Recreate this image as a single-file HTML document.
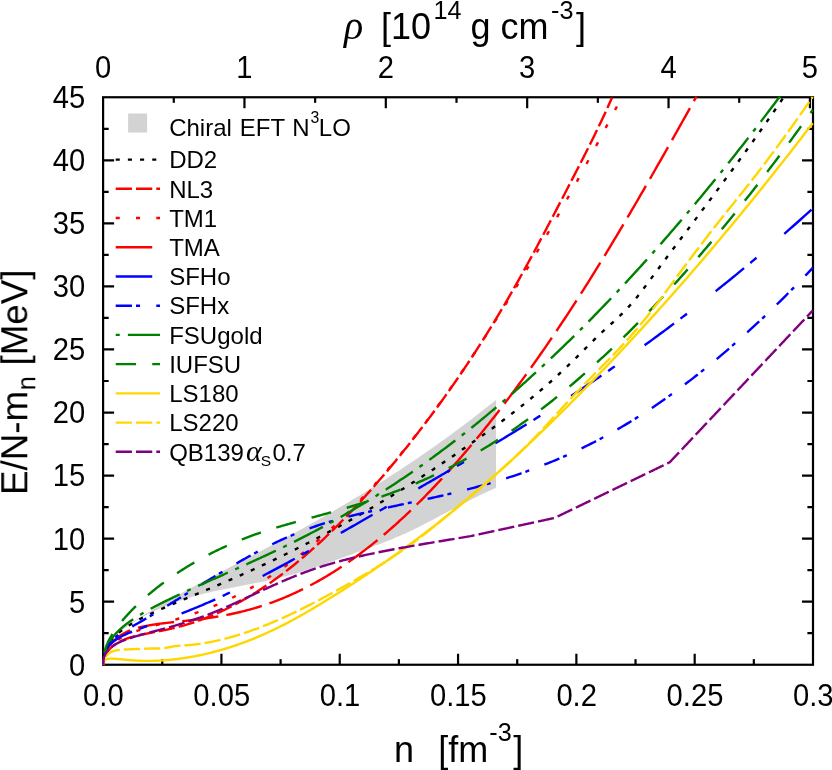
<!DOCTYPE html>
<html><head><meta charset="utf-8"><title>EOS</title>
<style>html,body{margin:0;padding:0;background:#fff;width:832px;height:770px;overflow:hidden}</style>
</head><body>
<svg width="832" height="770" viewBox="0 0 832 770" style="display:block;position:absolute;left:0;top:0">
<defs><clipPath id="cp"><rect x="102.10" y="96.25" width="711.90" height="569.50"/></clipPath></defs>
<rect x="0" y="0" width="832" height="770" fill="#ffffff"/>
<polygon fill="#d3d3d3" points="117.00,632.00 118.90,630.74 120.81,629.49 122.71,628.24 124.62,627.00 126.52,625.77 128.43,624.55 130.33,623.33 132.24,622.12 134.14,620.92 136.05,619.73 137.95,618.54 139.85,617.36 141.76,616.19 143.66,615.03 145.57,613.87 147.47,612.72 149.38,611.57 151.28,610.43 153.19,609.30 155.09,608.17 156.99,607.05 158.90,605.94 160.80,604.83 162.71,603.72 164.61,602.62 166.52,601.53 168.42,600.44 170.33,599.36 172.23,598.28 174.14,597.20 176.04,596.13 177.94,595.07 179.85,594.01 181.75,592.95 183.66,591.90 185.56,590.85 187.47,589.80 189.37,588.76 191.28,587.72 193.18,586.69 195.09,585.65 196.99,584.63 198.89,583.60 200.80,582.58 202.70,581.56 204.61,580.54 206.51,579.53 208.42,578.51 210.32,577.50 212.23,576.49 214.13,575.49 216.04,574.48 217.94,573.48 219.84,572.48 221.75,571.48 223.65,570.48 225.56,569.48 227.46,568.48 229.37,567.49 231.27,566.49 233.18,565.50 235.08,564.50 236.98,563.51 238.89,562.51 240.79,561.52 242.70,560.53 244.60,559.53 246.51,558.54 248.41,557.54 250.32,556.55 252.22,555.55 254.13,554.55 256.03,553.56 257.93,552.56 259.84,551.56 261.74,550.55 263.65,549.55 265.55,548.55 267.46,547.54 269.36,546.53 271.27,545.52 273.17,544.51 275.08,543.49 276.98,542.47 278.88,541.45 280.79,540.43 282.69,539.40 284.60,538.38 286.50,537.34 288.41,536.31 290.31,535.28 292.22,534.24 294.12,533.20 296.03,532.15 297.93,531.10 299.83,530.05 301.74,529.00 303.64,527.95 305.55,526.89 307.45,525.82 309.36,524.76 311.26,523.69 313.17,522.62 315.07,521.55 316.97,520.47 318.88,519.39 320.78,518.30 322.69,517.22 324.59,516.13 326.50,515.03 328.40,513.94 330.31,512.84 332.21,511.73 334.12,510.62 336.02,509.51 337.92,508.40 339.83,507.28 341.73,506.16 343.64,505.03 345.54,503.90 347.45,502.77 349.35,501.63 351.26,500.49 353.16,499.35 355.07,498.20 356.97,497.05 358.87,495.89 360.78,494.73 362.68,493.57 364.59,492.40 366.49,491.23 368.40,490.05 370.30,488.87 372.21,487.68 374.11,486.49 376.02,485.30 377.92,484.10 379.82,482.90 381.73,481.69 383.63,480.48 385.54,479.27 387.44,478.05 389.35,476.82 391.25,475.60 393.16,474.36 395.06,473.12 396.96,471.88 398.87,470.63 400.77,469.38 402.68,468.12 404.58,466.86 406.49,465.60 408.39,464.33 410.30,463.05 412.20,461.77 414.11,460.48 416.01,459.19 417.91,457.89 419.82,456.59 421.72,455.29 423.63,453.97 425.53,452.66 427.44,451.34 429.34,450.01 431.25,448.68 433.15,447.34 435.06,446.00 436.96,444.65 438.86,443.29 440.77,441.93 442.67,440.57 444.58,439.20 446.48,437.82 448.39,436.44 450.29,435.05 452.20,433.66 454.10,432.26 456.01,430.86 457.91,429.45 459.81,428.03 461.72,426.61 463.62,425.18 465.53,423.75 467.43,422.31 469.34,420.86 471.24,419.41 473.15,417.96 475.05,416.49 476.95,415.02 478.86,413.55 480.76,412.06 482.67,410.58 484.57,409.08 486.48,407.58 488.38,406.07 490.29,404.56 492.19,403.04 494.10,401.51 496.00,399.98 496.00,487.95 494.10,488.76 492.19,489.58 490.29,490.41 488.38,491.27 486.48,492.13 484.57,493.01 482.67,493.91 480.76,494.81 478.86,495.73 476.95,496.66 475.05,497.60 473.15,498.55 471.24,499.51 469.34,500.48 467.43,501.46 465.53,502.44 463.62,503.43 461.72,504.43 459.81,505.43 457.91,506.43 456.01,507.44 454.10,508.45 452.20,509.47 450.29,510.49 448.39,511.51 446.48,512.53 444.58,513.54 442.67,514.56 440.77,515.58 438.86,516.60 436.96,517.61 435.06,518.62 433.15,519.62 431.25,520.62 429.34,521.61 427.44,522.60 425.53,523.58 423.63,524.56 421.72,525.52 419.82,526.48 417.91,527.43 416.01,528.37 414.11,529.29 412.20,530.21 410.30,531.11 408.39,532.00 406.49,532.88 404.58,533.74 402.68,534.59 400.77,535.42 398.87,536.25 396.96,537.06 395.06,537.85 393.16,538.64 391.25,539.42 389.35,540.19 387.44,540.95 385.54,541.70 383.63,542.44 381.73,543.18 379.82,543.91 377.92,544.63 376.02,545.35 374.11,546.06 372.21,546.77 370.30,547.47 368.40,548.17 366.49,548.87 364.59,549.57 362.68,550.26 360.78,550.96 358.87,551.65 356.97,552.35 355.07,553.05 353.16,553.74 351.26,554.44 349.35,555.14 347.45,555.84 345.54,556.55 343.64,557.25 341.73,557.95 339.83,558.65 337.92,559.34 336.02,560.04 334.12,560.73 332.21,561.42 330.31,562.11 328.40,562.79 326.50,563.47 324.59,564.15 322.69,564.82 320.78,565.48 318.88,566.14 316.97,566.80 315.07,567.45 313.17,568.09 311.26,568.72 309.36,569.34 307.45,569.96 305.55,570.57 303.64,571.17 301.74,571.76 299.83,572.34 297.93,572.91 296.03,573.47 294.12,574.02 292.22,574.56 290.31,575.09 288.41,575.60 286.50,576.10 284.60,576.59 282.69,577.07 280.79,577.54 278.88,578.00 276.98,578.45 275.08,578.90 273.17,579.33 271.27,579.75 269.36,580.17 267.46,580.58 265.55,580.99 263.65,581.39 261.74,581.78 259.84,582.17 257.93,582.55 256.03,582.93 254.13,583.31 252.22,583.68 250.32,584.06 248.41,584.43 246.51,584.80 244.60,585.16 242.70,585.53 240.79,585.90 238.89,586.27 236.98,586.63 235.08,587.01 233.18,587.38 231.27,587.75 229.37,588.13 227.46,588.51 225.56,588.90 223.65,589.29 221.75,589.69 219.84,590.09 217.94,590.50 216.04,590.91 214.13,591.33 212.23,591.76 210.32,592.20 208.42,592.64 206.51,593.10 204.61,593.56 202.70,594.04 200.80,594.52 198.89,595.02 196.99,595.53 195.09,596.05 193.18,596.58 191.28,597.12 189.37,597.68 187.47,598.25 185.56,598.84 183.66,599.44 181.75,600.06 179.85,600.70 177.94,601.35 176.04,602.02 174.14,602.70 172.23,603.40 170.33,604.13 168.42,604.87 166.52,605.63 164.61,606.41 162.71,607.21 160.80,608.03 158.90,608.88 156.99,609.74 155.09,610.63 153.19,611.54 151.28,612.48 149.38,613.43 147.47,614.42 145.57,615.43 143.66,616.46 141.76,617.52 139.85,618.61 137.95,619.72 136.05,620.86 134.14,622.03 132.24,623.23 130.33,624.45 128.43,625.71 126.52,627.00 124.62,628.31 122.71,629.66 120.81,631.04 118.90,632.45 117.00,633.90"/>
<rect x="128.1" y="113.5" width="19" height="19" fill="#d3d3d3"/>
<g stroke="#000" stroke-width="2.2" fill="none" stroke-linecap="butt">
<rect x="103.1" y="97.25" width="709.9" height="567.5"/>
<path d="M103.1,633.22 h5.6 M813.0,633.22 h-5.6"/>
<path d="M103.1,601.69 h11.0 M813.0,601.69 h-11.0"/>
<path d="M103.1,570.17 h5.6 M813.0,570.17 h-5.6"/>
<path d="M103.1,538.64 h11.0 M813.0,538.64 h-11.0"/>
<path d="M103.1,507.11 h5.6 M813.0,507.11 h-5.6"/>
<path d="M103.1,475.58 h11.0 M813.0,475.58 h-11.0"/>
<path d="M103.1,444.06 h5.6 M813.0,444.06 h-5.6"/>
<path d="M103.1,412.53 h11.0 M813.0,412.53 h-11.0"/>
<path d="M103.1,381.00 h5.6 M813.0,381.00 h-5.6"/>
<path d="M103.1,349.47 h11.0 M813.0,349.47 h-11.0"/>
<path d="M103.1,317.94 h5.6 M813.0,317.94 h-5.6"/>
<path d="M103.1,286.42 h11.0 M813.0,286.42 h-11.0"/>
<path d="M103.1,254.89 h5.6 M813.0,254.89 h-5.6"/>
<path d="M103.1,223.36 h11.0 M813.0,223.36 h-11.0"/>
<path d="M103.1,191.83 h5.6 M813.0,191.83 h-5.6"/>
<path d="M103.1,160.31 h11.0 M813.0,160.31 h-11.0"/>
<path d="M103.1,128.78 h5.6 M813.0,128.78 h-5.6"/>
<path d="M162.26,664.75 v-5.6"/>
<path d="M221.42,664.75 v-11.0"/>
<path d="M280.58,664.75 v-5.6"/>
<path d="M339.73,664.75 v-11.0"/>
<path d="M398.89,664.75 v-5.6"/>
<path d="M458.05,664.75 v-11.0"/>
<path d="M517.21,664.75 v-5.6"/>
<path d="M576.37,664.75 v-11.0"/>
<path d="M635.53,664.75 v-5.6"/>
<path d="M694.68,664.75 v-11.0"/>
<path d="M753.84,664.75 v-5.6"/>
<path d="M173.78,97.25 v5.6"/>
<path d="M244.46,97.25 v11.0"/>
<path d="M315.14,97.25 v5.6"/>
<path d="M385.82,97.25 v11.0"/>
<path d="M456.50,97.25 v5.6"/>
<path d="M527.18,97.25 v11.0"/>
<path d="M597.86,97.25 v5.6"/>
<path d="M668.54,97.25 v11.0"/>
<path d="M739.22,97.25 v5.6"/>
<path d="M809.90,97.25 v11.0"/>
</g>
<g clip-path="url(#cp)" fill="none" stroke-linecap="butt" stroke-linejoin="round">
<path d="M103.10,664.75 L103.10,664.22 L103.11,663.70 L103.12,663.18 L103.14,662.67 L103.17,662.15 L103.20,661.65 L103.23,661.14 L103.28,660.64 L103.32,660.14 L103.37,659.64 L103.43,659.15 L103.49,658.66 L103.56,658.18 L103.64,657.70 L103.72,657.22 L103.80,656.74 L103.89,656.27 L103.99,655.80 L104.09,655.33 L104.19,654.87 L104.31,654.41 L104.42,653.95 L104.55,653.49 L104.68,653.04 L104.81,652.59 L104.95,652.14 L105.09,651.70 L105.24,651.26 L105.40,650.82 L105.56,650.38 L105.73,649.95 L105.90,649.52 L106.08,649.09 L106.26,648.66 L106.45,648.24 L106.64,647.82 L106.84,647.40 L107.05,646.99 L107.26,646.57 L107.48,646.16 L107.70,645.75 L107.92,645.34 L108.16,644.94 L108.39,644.54 L108.64,644.14 L108.89,643.74 L109.14,643.34 L109.40,642.95 L109.67,642.56 L109.94,642.17 L110.21,641.78 L110.49,641.39 L110.78,641.01 L111.07,640.63 L111.37,640.24 L111.68,639.87 L111.98,639.49 L112.30,639.11 L112.62,638.74 L112.94,638.37 L113.28,638.00 L113.61,637.63 L113.95,637.26 L114.30,636.90 L114.65,636.53 L115.01,636.17 L115.38,635.81 L115.74,635.45 L116.12,635.09 L116.50,634.73 L116.88,634.38 L117.28,634.02 L117.67,633.67 L118.07,633.32 L118.48,632.97 L118.89,632.62 L119.31,632.27 L119.74,631.92 L120.17,631.57 L120.60,631.23 L121.04,630.88 L121.49,630.54 L121.94,630.20 L122.39,629.86 L122.86,629.52 L123.32,629.18 L123.80,628.84 L124.28,628.50 L124.76,628.16 L125.25,627.82 L125.74,627.49 L126.25,627.15 L126.75,626.81 L127.26,626.48 L127.78,626.15 L128.30,625.81 L128.83,625.48 L129.36,625.15 L129.90,624.81 L130.45,624.48 L130.99,624.15 L131.55,623.82 L132.11,623.49 L132.68,623.16 L133.25,622.82 L133.83,622.49 L134.41,622.16 L135.00,621.83 L135.59,621.50 L136.19,621.17 L136.79,620.84 L137.40,620.51 L138.02,620.18 L138.64,619.85 L139.26,619.52 L139.90,619.19 L140.53,618.86 L141.18,618.52 L141.82,618.19 L142.48,617.86 L143.14,617.53 L143.80,617.20 L144.47,616.86 L145.15,616.53 L145.83,616.20 L146.51,615.86 L147.21,615.53 L147.90,615.19 L148.61,614.85 L149.31,614.52 L150.03,614.18 L150.75,613.84 L151.47,613.50 L152.20,613.16 L152.94,612.82 L153.68,612.48 L154.42,612.14 L155.18,611.80 L155.93,611.45 L156.70,611.11 L157.47,610.76 L158.24,610.41 L159.02,610.07 L159.80,609.72 L160.59,609.37 L161.39,609.01 L162.19,608.66 L163.00,608.31 L163.81,607.95 L164.63,607.60 L165.45,607.24 L166.28,606.88 L167.11,606.52 L167.95,606.16 L168.80,605.79 L169.65,605.43 L170.50,605.06 L171.36,604.70 L172.23,604.33 L173.10,603.96 L173.98,603.58 L174.86,603.21 L175.75,602.83 L176.65,602.45 L177.55,602.08 L178.45,601.69 L179.36,601.31 L180.28,600.93 L181.20,600.54 L182.13,600.15 L183.06,599.76 L184.00,599.37 L184.94,598.97 L185.89,598.57 L186.84,598.17 L187.80,597.77 L188.77,597.37 L189.74,596.96 L190.72,596.56 L191.70,596.15 L192.69,595.73 L193.68,595.32 L194.68,594.90 L195.68,594.48 L196.69,594.06 L197.70,593.64 L198.72,593.21 L199.75,592.78 L200.78,592.35 L201.82,591.91 L202.86,591.48 L203.91,591.04 L204.96,590.59 L206.02,590.15 L207.08,589.70 L208.15,589.25 L209.22,588.79 L210.30,588.34 L211.39,587.88 L212.48,587.42 L213.58,586.95 L214.68,586.48 L215.79,586.01 L216.90,585.54 L218.02,585.06 L219.14,584.58 L220.27,584.09 L221.41,583.61 L222.55,583.12 L223.69,582.62 L224.84,582.13 L226.00,581.63 L227.16,581.12 L228.33,580.62 L229.50,580.11 L230.68,579.59 L231.87,579.08 L233.06,578.56 L234.25,578.03 L235.45,577.50 L236.66,576.97 L237.87,576.44 L239.09,575.90 L240.31,575.36 L241.54,574.81 L242.77,574.26 L244.01,573.71 L245.25,573.15 L246.50,572.59 L247.76,572.02 L249.02,571.45 L250.28,570.88 L251.55,570.30 L252.83,569.72 L254.11,569.13 L255.40,568.54 L256.70,567.95 L257.99,567.35 L259.30,566.75 L260.61,566.14 L261.92,565.53 L263.24,564.92 L264.57,564.30 L265.90,563.68 L267.24,563.05 L268.58,562.42 L269.93,561.78 L271.28,561.14 L272.64,560.49 L274.01,559.84 L275.38,559.19 L276.75,558.53 L278.13,557.86 L279.52,557.19 L280.91,556.52 L282.31,555.84 L283.71,555.16 L285.12,554.47 L286.53,553.78 L287.95,553.08 L289.38,552.38 L290.81,551.67 L292.24,550.96 L293.69,550.24 L295.13,549.51 L296.58,548.79 L298.04,548.05 L299.50,547.32 L300.97,546.57 L302.45,545.82 L303.93,545.07 L305.41,544.31 L306.90,543.55 L308.40,542.78 L309.90,542.00 L311.41,541.22 L312.92,540.43 L314.44,539.64 L315.96,538.85 L317.49,538.04 L319.02,537.23 L320.56,536.42 L322.11,535.60 L323.66,534.78 L325.21,533.94 L326.77,533.11 L328.34,532.27 L329.91,531.42 L331.49,530.56 L333.07,529.70 L334.66,528.84 L336.26,527.97 L337.86,527.09 L339.46,526.20 L341.07,525.31 L342.69,524.42 L344.31,523.52 L345.94,522.61 L347.57,521.69 L349.21,520.77 L350.85,519.85 L352.50,518.91 L354.15,517.98 L355.81,517.03 L357.48,516.08 L359.15,515.12 L360.83,514.15 L362.51,513.18 L364.20,512.21 L365.89,511.22 L367.59,510.23 L369.29,509.23 L371.00,508.23 L372.71,507.22 L374.43,506.20 L376.16,505.18 L377.89,504.15 L379.63,503.11 L381.37,502.06 L383.12,501.01 L384.87,499.95 L386.63,498.89 L388.39,497.82 L390.16,496.74 L391.93,495.65 L393.71,494.56 L395.50,493.46 L397.29,492.35 L399.09,491.23 L400.89,490.11 L402.70,488.98 L404.51,487.85 L406.33,486.70 L408.15,485.55 L409.98,484.40 L411.82,483.23 L413.66,482.06 L415.50,480.88 L417.35,479.69 L419.21,478.49 L421.07,477.29 L422.94,476.08 L424.81,474.86 L426.69,473.63 L428.58,472.40 L430.47,471.16 L432.36,469.91 L434.26,468.65 L436.17,467.39 L438.08,466.12 L440.00,464.84 L441.92,463.55 L443.85,462.25 L445.78,460.95 L447.72,459.64 L449.66,458.32 L451.61,456.99 L453.57,455.65 L455.53,454.31 L457.49,452.95 L459.47,451.59 L461.44,450.22 L463.43,448.85 L465.41,447.46 L467.41,446.07 L469.41,444.67 L471.41,443.25 L473.42,441.84 L475.44,440.41 L477.46,438.97 L479.48,437.53 L481.51,436.07 L483.55,434.61 L485.59,433.14 L487.64,431.66 L489.70,430.17 L491.76,428.67 L493.82,427.16 L495.89,425.64 L497.97,424.11 L500.05,422.57 L502.13,421.01 L504.23,419.44 L506.32,417.86 L508.43,416.26 L510.53,414.65 L512.65,413.03 L514.77,411.39 L516.89,409.73 L519.02,408.06 L521.16,406.37 L523.30,404.67 L525.44,402.95 L527.60,401.21 L529.75,399.45 L531.92,397.68 L534.09,395.88 L536.26,394.07 L538.44,392.23 L540.62,390.38 L542.81,388.50 L545.01,386.61 L547.21,384.69 L549.42,382.75 L551.63,380.79 L553.85,378.80 L556.07,376.79 L558.30,374.76 L560.53,372.70 L562.77,370.62 L565.02,368.51 L567.27,366.38 L569.53,364.22 L571.79,362.03 L574.05,359.82 L576.33,357.58 L578.60,355.31 L580.89,353.02 L583.18,350.72 L585.47,348.41 L587.77,346.09 L590.08,343.78 L592.39,341.48 L594.70,339.20 L597.02,336.93 L599.35,334.70 L601.68,332.50 L604.02,330.35 L606.37,328.22 L608.71,326.12 L611.07,324.01 L613.43,321.88 L615.79,319.72 L618.16,317.51 L620.54,315.23 L622.92,312.87 L625.31,310.42 L627.70,307.89 L630.10,305.25 L632.50,302.52 L634.91,299.68 L637.33,296.72 L639.75,293.66 L642.17,290.51 L644.60,287.29 L647.04,284.02 L649.48,280.72 L651.93,277.41 L654.38,274.10 L656.84,270.79 L659.31,267.48 L661.77,264.17 L664.25,260.85 L666.73,257.54 L669.22,254.22 L671.71,250.90 L674.20,247.58 L676.71,244.25 L679.21,240.91 L681.73,237.57 L684.24,234.23 L686.77,230.87 L689.30,227.51 L691.83,224.15 L694.37,220.77 L696.92,217.38 L699.47,213.99 L702.03,210.58 L704.59,207.17 L707.16,203.74 L709.73,200.30 L712.31,196.85 L714.89,193.38 L717.48,189.90 L720.08,186.41 L722.68,182.90 L725.28,179.38 L727.90,175.84 L730.51,172.28 L733.14,168.70 L735.76,165.11 L738.40,161.50 L741.04,157.87 L743.68,154.23 L746.33,150.56 L748.98,146.87 L751.65,143.16 L754.31,139.42 L756.98,135.67 L759.66,131.89 L762.34,128.09 L765.03,124.26 L767.72,120.41 L770.42,116.53 L773.13,112.63 L775.84,108.70 L778.55,104.75 L781.27,100.76 L784.00,96.75" stroke="#000000" stroke-width="2.4" stroke-dasharray="4.06,8.12" stroke-dashoffset="11.66"/>
<path d="M103.10,664.75 L103.10,664.45 L103.11,664.14 L103.12,663.84 L103.13,663.54 L103.15,663.24 L103.17,662.93 L103.20,662.64 L103.23,662.34 L103.27,662.04 L103.30,661.74 L103.35,661.45 L103.39,661.15 L103.45,660.86 L103.50,660.56 L103.56,660.27 L103.62,659.98 L103.69,659.69 L103.76,659.40 L103.84,659.11 L103.92,658.82 L104.00,658.54 L104.09,658.25 L104.18,657.97 L104.28,657.68 L104.38,657.40 L104.48,657.12 L104.59,656.84 L104.70,656.56 L104.82,656.28 L104.94,656.00 L105.06,655.73 L105.19,655.45 L105.33,655.18 L105.46,654.90 L105.60,654.63 L105.75,654.36 L105.90,654.09 L106.05,653.82 L106.21,653.56 L106.37,653.29 L106.54,653.03 L106.71,652.76 L106.88,652.50 L107.06,652.24 L107.24,651.98 L107.43,651.72 L107.62,651.47 L107.81,651.21 L108.01,650.96 L108.21,650.70 L108.42,650.45 L108.63,650.20 L108.84,649.95 L109.06,649.70 L109.28,649.46 L109.51,649.21 L109.74,648.97 L109.98,648.72 L110.22,648.48 L110.46,648.24 L110.71,648.00 L110.96,647.77 L111.21,647.53 L111.47,647.30 L111.74,647.06 L112.00,646.83 L112.28,646.60 L112.55,646.37 L112.83,646.15 L113.12,645.92 L113.40,645.70 L113.70,645.48 L113.99,645.26 L114.29,645.04 L114.60,644.82 L114.91,644.60 L115.22,644.39 L115.54,644.18 L115.86,643.96 L116.18,643.75 L116.51,643.55 L116.84,643.34 L117.18,643.13 L117.52,642.93 L117.87,642.73 L118.22,642.53 L118.57,642.33 L118.93,642.13 L119.29,641.94 L119.66,641.75 L120.03,641.55 L120.40,641.36 L120.78,641.18 L121.16,640.99 L121.55,640.81 L121.94,640.62 L122.33,640.44 L122.73,640.26 L123.13,640.09 L123.54,639.91 L123.95,639.74 L124.37,639.56 L124.79,639.39 L125.21,639.23 L125.64,639.06 L126.07,638.89 L126.50,638.73 L126.94,638.57 L127.39,638.41 L127.83,638.26 L128.29,638.10 L128.74,637.95 L129.20,637.80 L129.67,637.65 L130.13,637.50 L130.61,637.35 L131.08,637.21 L131.56,637.07 L132.05,636.93 L132.54,636.79 L133.03,636.66 L133.53,636.52 L134.03,636.39 L134.53,636.26 L135.04,636.13 L135.55,636.00 L136.07,635.87 L136.59,635.75 L137.12,635.62 L137.65,635.50 L138.18,635.38 L138.72,635.26 L139.26,635.14 L139.81,635.02 L140.35,634.90 L140.91,634.78 L141.47,634.66 L142.03,634.55 L142.60,634.43 L143.17,634.31 L143.74,634.20 L144.32,634.08 L144.90,633.97 L145.49,633.85 L146.08,633.74 L146.67,633.62 L147.27,633.50 L147.88,633.39 L148.48,633.27 L149.09,633.15 L149.71,633.04 L150.33,632.92 L150.95,632.80 L151.58,632.68 L152.21,632.56 L152.85,632.44 L153.49,632.32 L154.13,632.19 L154.78,632.07 L155.43,631.94 L156.09,631.82 L156.75,631.69 L157.41,631.56 L158.08,631.43 L158.75,631.30 L159.43,631.16 L160.11,631.03 L160.79,630.89 L161.48,630.75 L162.18,630.61 L162.87,630.47 L163.57,630.32 L164.28,630.18 L164.99,630.03 L165.70,629.87 L166.42,629.72 L167.14,629.56 L167.87,629.40 L168.60,629.24 L169.33,629.08 L170.07,628.91 L170.81,628.74 L171.56,628.57 L172.31,628.39 L173.06,628.21 L173.82,628.03 L174.58,627.85 L175.35,627.66 L176.12,627.47 L176.89,627.27 L177.67,627.07 L178.46,626.87 L179.24,626.66 L180.03,626.45 L180.83,626.24 L181.63,626.02 L182.43,625.80 L183.24,625.57 L184.05,625.34 L184.87,625.11 L185.69,624.87 L186.51,624.63 L187.34,624.38 L188.17,624.13 L189.01,623.87 L189.85,623.61 L190.69,623.35 L191.54,623.08 L192.39,622.80 L193.25,622.52 L194.11,622.24 L194.97,621.95 L195.84,621.66 L196.71,621.36 L197.59,621.05 L198.47,620.74 L199.36,620.43 L200.25,620.11 L201.14,619.78 L202.04,619.45 L202.94,619.11 L203.84,618.77 L204.75,618.42 L205.67,618.07 L206.59,617.71 L207.51,617.35 L208.43,616.97 L209.36,616.60 L210.30,616.22 L211.24,615.83 L212.18,615.43 L213.13,615.03 L214.08,614.63 L215.03,614.21 L215.99,613.79 L216.95,613.37 L217.92,612.94 L218.89,612.50 L219.86,612.05 L220.84,611.60 L221.83,611.14 L222.81,610.68 L223.81,610.21 L224.80,609.73 L225.80,609.24 L226.80,608.75 L227.81,608.25 L228.82,607.75 L229.84,607.23 L230.86,606.71 L231.88,606.19 L232.91,605.65 L233.95,605.11 L234.98,604.56 L236.02,604.01 L237.07,603.44 L238.12,602.87 L239.17,602.29 L240.22,601.70 L241.29,601.11 L242.35,600.51 L243.42,599.90 L244.49,599.28 L245.57,598.66 L246.65,598.02 L247.74,597.38 L248.83,596.73 L249.92,596.07 L251.02,595.41 L252.12,594.73 L253.23,594.05 L254.34,593.36 L255.45,592.66 L256.57,591.95 L257.69,591.23 L258.82,590.51 L259.95,589.77 L261.08,589.03 L262.22,588.28 L263.36,587.52 L264.51,586.75 L265.66,585.97 L266.82,585.19 L267.97,584.39 L269.14,583.59 L270.30,582.77 L271.48,581.95 L272.65,581.12 L273.83,580.27 L275.01,579.42 L276.20,578.56 L277.39,577.69 L278.59,576.81 L279.79,575.92 L280.99,575.02 L282.20,574.11 L283.41,573.19 L284.63,572.26 L285.85,571.33 L287.08,570.38 L288.30,569.42 L289.54,568.45 L290.77,567.47 L292.01,566.48 L293.26,565.48 L294.51,564.47 L295.76,563.45 L297.02,562.42 L298.28,561.38 L299.54,560.33 L300.81,559.27 L302.09,558.20 L303.37,557.11 L304.65,556.02 L305.93,554.91 L307.22,553.80 L308.52,552.67 L309.81,551.53 L311.12,550.38 L312.42,549.22 L313.73,548.05 L315.05,546.87 L316.37,545.68 L317.69,544.47 L319.02,543.25 L320.35,542.03 L321.68,540.79 L323.02,539.54 L324.36,538.27 L325.71,537.00 L327.06,535.71 L328.42,534.42 L329.78,533.11 L331.14,531.79 L332.51,530.45 L333.88,529.11 L335.25,527.75 L336.63,526.38 L338.02,525.00 L339.41,523.60 L340.80,522.20 L342.19,520.78 L343.59,519.35 L345.00,517.91 L346.41,516.45 L347.82,514.99 L349.24,513.51 L350.66,512.02 L352.08,510.51 L353.51,509.00 L354.94,507.47 L356.38,505.93 L357.82,504.37 L359.27,502.81 L360.72,501.23 L362.17,499.64 L363.63,498.03 L365.09,496.42 L366.55,494.79 L368.02,493.15 L369.50,491.49 L370.98,489.83 L372.46,488.15 L373.94,486.45 L375.43,484.75 L376.93,483.03 L378.43,481.30 L379.93,479.55 L381.44,477.79 L382.95,476.02 L384.46,474.24 L385.98,472.44 L387.50,470.63 L389.03,468.81 L390.56,466.98 L392.10,465.13 L393.64,463.26 L395.18,461.39 L396.73,459.50 L398.28,457.60 L399.83,455.68 L401.39,453.75 L402.96,451.81 L404.52,449.85 L406.10,447.89 L407.67,445.90 L409.25,443.91 L410.84,441.90 L412.43,439.87 L414.02,437.84 L415.61,435.79 L417.22,433.72 L418.82,431.64 L420.43,429.55 L422.04,427.45 L423.66,425.33 L425.28,423.19 L426.90,421.04 L428.53,418.87 L430.17,416.69 L431.80,414.50 L433.45,412.29 L435.09,410.06 L436.74,407.81 L438.39,405.55 L440.05,403.27 L441.71,400.98 L443.38,398.67 L445.05,396.34 L446.72,393.99 L448.40,391.62 L450.09,389.24 L451.77,386.84 L453.46,384.41 L455.16,381.98 L456.86,379.52 L458.56,377.04 L460.27,374.54 L461.98,372.02 L463.69,369.48 L465.41,366.93 L467.13,364.35 L468.86,361.75 L470.59,359.13 L472.33,356.48 L474.07,353.82 L475.81,351.13 L477.56,348.43 L479.31,345.70 L481.07,342.95 L482.83,340.17 L484.59,337.37 L486.36,334.55 L488.13,331.71 L489.91,328.84 L491.69,325.95 L493.47,323.03 L495.26,320.09 L497.05,317.13 L498.85,314.14 L500.65,311.12 L502.46,308.08 L504.27,305.02 L506.08,301.93 L507.90,298.81 L509.72,295.67 L511.54,292.50 L513.37,289.30 L515.21,286.08 L517.04,282.83 L518.89,279.55 L520.73,276.25 L522.58,272.92 L524.44,269.57 L526.29,266.19 L528.16,262.79 L530.02,259.37 L531.89,255.92 L533.77,252.46 L535.65,248.97 L537.53,245.46 L539.42,241.93 L541.31,238.38 L543.20,234.81 L545.10,231.23 L547.00,227.62 L548.91,224.00 L550.82,220.37 L552.74,216.71 L554.66,213.04 L556.58,209.36 L558.51,205.66 L560.44,201.94 L562.38,198.22 L564.32,194.48 L566.26,190.73 L568.21,186.96 L570.16,183.19 L572.12,179.41 L574.08,175.61 L576.04,171.80 L578.01,167.98 L579.98,164.14 L581.96,160.27 L583.94,156.38 L585.92,152.46 L587.91,148.51 L589.91,144.53 L591.90,140.50 L593.90,136.44 L595.91,132.33 L597.92,128.17 L599.93,123.97 L601.95,119.71 L603.97,115.39 L606.00,111.01 L608.03,106.57 L610.06,102.07 L612.10,97.49" stroke="#ff0000" stroke-width="2.4" stroke-dasharray="16.24,4.06" stroke-dashoffset="10.55"/>
<path d="M103.10,664.75 L103.10,664.39 L103.11,664.03 L103.12,663.67 L103.13,663.31 L103.15,662.95 L103.17,662.60 L103.20,662.25 L103.23,661.90 L103.27,661.55 L103.31,661.20 L103.35,660.85 L103.40,660.51 L103.45,660.17 L103.51,659.83 L103.57,659.49 L103.63,659.15 L103.70,658.81 L103.77,658.48 L103.85,658.15 L103.93,657.82 L104.02,657.49 L104.11,657.16 L104.20,656.83 L104.30,656.51 L104.40,656.18 L104.51,655.86 L104.62,655.54 L104.73,655.22 L104.85,654.91 L104.97,654.59 L105.10,654.28 L105.23,653.97 L105.37,653.65 L105.51,653.35 L105.65,653.04 L105.80,652.73 L105.95,652.43 L106.11,652.13 L106.27,651.82 L106.43,651.52 L106.60,651.23 L106.77,650.93 L106.95,650.63 L107.13,650.34 L107.32,650.05 L107.51,649.76 L107.70,649.47 L107.90,649.18 L108.10,648.90 L108.31,648.61 L108.52,648.33 L108.73,648.05 L108.95,647.77 L109.17,647.49 L109.40,647.21 L109.63,646.94 L109.87,646.66 L110.11,646.39 L110.35,646.12 L110.60,645.85 L110.85,645.58 L111.11,645.32 L111.37,645.05 L111.63,644.79 L111.90,644.52 L112.17,644.26 L112.45,644.01 L112.73,643.75 L113.02,643.49 L113.31,643.24 L113.60,642.98 L113.90,642.73 L114.20,642.48 L114.50,642.23 L114.82,641.98 L115.13,641.74 L115.45,641.49 L115.77,641.25 L116.10,641.01 L116.43,640.77 L116.76,640.53 L117.10,640.29 L117.45,640.05 L117.80,639.82 L118.15,639.59 L118.50,639.35 L118.86,639.12 L119.23,638.89 L119.60,638.66 L119.97,638.44 L120.35,638.21 L120.73,637.99 L121.11,637.77 L121.50,637.55 L121.90,637.33 L122.29,637.11 L122.70,636.89 L123.10,636.67 L123.51,636.46 L123.93,636.25 L124.35,636.04 L124.77,635.83 L125.20,635.62 L125.63,635.41 L126.06,635.20 L126.50,635.00 L126.95,634.79 L127.39,634.59 L127.84,634.39 L128.30,634.19 L128.76,633.99 L129.23,633.80 L129.69,633.60 L130.17,633.41 L130.64,633.21 L131.13,633.02 L131.61,632.83 L132.10,632.64 L132.59,632.45 L133.09,632.27 L133.59,632.08 L134.10,631.89 L134.61,631.71 L135.12,631.53 L135.64,631.35 L136.17,631.16 L136.69,630.98 L137.22,630.80 L137.76,630.62 L138.30,630.45 L138.84,630.27 L139.39,630.09 L139.94,629.91 L140.50,629.74 L141.06,629.56 L141.62,629.38 L142.19,629.21 L142.76,629.03 L143.34,628.86 L143.92,628.68 L144.51,628.50 L145.10,628.33 L145.69,628.15 L146.29,627.98 L146.89,627.80 L147.50,627.62 L148.11,627.45 L148.72,627.27 L149.34,627.09 L149.96,626.91 L150.59,626.73 L151.22,626.55 L151.85,626.37 L152.49,626.19 L153.14,626.01 L153.79,625.83 L154.44,625.65 L155.09,625.46 L155.75,625.28 L156.42,625.09 L157.09,624.90 L157.76,624.72 L158.44,624.53 L159.12,624.34 L159.80,624.14 L160.49,623.95 L161.19,623.75 L161.88,623.56 L162.58,623.36 L163.29,623.16 L164.00,622.96 L164.72,622.76 L165.43,622.55 L166.16,622.35 L166.88,622.14 L167.61,621.93 L168.35,621.71 L169.09,621.50 L169.83,621.28 L170.58,621.07 L171.33,620.84 L172.09,620.62 L172.85,620.40 L173.61,620.17 L174.38,619.94 L175.15,619.71 L175.93,619.47 L176.71,619.24 L177.50,619.00 L178.29,618.75 L179.08,618.51 L179.88,618.26 L180.68,618.01 L181.49,617.75 L182.30,617.50 L183.11,617.24 L183.93,616.97 L184.75,616.71 L185.58,616.44 L186.41,616.17 L187.24,615.89 L188.08,615.61 L188.93,615.33 L189.77,615.04 L190.63,614.76 L191.48,614.46 L192.34,614.17 L193.21,613.87 L194.08,613.56 L194.95,613.25 L195.82,612.94 L196.71,612.63 L197.59,612.31 L198.48,611.99 L199.37,611.66 L200.27,611.33 L201.17,610.99 L202.08,610.65 L202.99,610.31 L203.90,609.96 L204.82,609.61 L205.74,609.25 L206.67,608.89 L207.60,608.52 L208.54,608.15 L209.48,607.78 L210.42,607.40 L211.37,607.01 L212.32,606.63 L213.28,606.23 L214.24,605.83 L215.20,605.43 L216.17,605.02 L217.14,604.61 L218.12,604.19 L219.10,603.76 L220.08,603.33 L221.07,602.90 L222.07,602.46 L223.06,602.01 L224.07,601.56 L225.07,601.10 L226.08,600.64 L227.10,600.17 L228.12,599.69 L229.14,599.21 L230.16,598.73 L231.20,598.23 L232.23,597.73 L233.27,597.23 L234.31,596.72 L235.36,596.20 L236.41,595.67 L237.47,595.14 L238.53,594.60 L239.59,594.06 L240.66,593.51 L241.73,592.95 L242.81,592.38 L243.89,591.81 L244.98,591.23 L246.07,590.65 L247.16,590.05 L248.26,589.45 L249.36,588.84 L250.47,588.23 L251.58,587.60 L252.69,586.97 L253.81,586.33 L254.93,585.69 L256.06,585.03 L257.19,584.37 L258.32,583.70 L259.46,583.02 L260.61,582.34 L261.75,581.64 L262.91,580.94 L264.06,580.23 L265.22,579.51 L266.39,578.78 L267.55,578.04 L268.73,577.30 L269.90,576.54 L271.08,575.78 L272.27,575.01 L273.46,574.23 L274.65,573.44 L275.85,572.64 L277.05,571.83 L278.26,571.01 L279.47,570.19 L280.68,569.35 L281.90,568.51 L283.12,567.65 L284.35,566.79 L285.58,565.91 L286.81,565.03 L288.05,564.14 L289.30,563.23 L290.55,562.32 L291.80,561.39 L293.05,560.46 L294.31,559.52 L295.58,558.56 L296.85,557.60 L298.12,556.62 L299.39,555.64 L300.68,554.64 L301.96,553.63 L303.25,552.62 L304.54,551.59 L305.84,550.55 L307.14,549.50 L308.45,548.44 L309.76,547.36 L311.07,546.28 L312.39,545.19 L313.71,544.08 L315.04,542.96 L316.37,541.83 L317.71,540.69 L319.05,539.54 L320.39,538.38 L321.74,537.20 L323.09,536.02 L324.44,534.82 L325.80,533.60 L327.17,532.38 L328.54,531.15 L329.91,529.90 L331.29,528.64 L332.67,527.37 L334.05,526.08 L335.44,524.78 L336.83,523.47 L338.23,522.15 L339.63,520.82 L341.04,519.47 L342.45,518.11 L343.86,516.73 L345.28,515.35 L346.70,513.95 L348.13,512.53 L349.56,511.11 L351.00,509.67 L352.44,508.22 L353.88,506.75 L355.33,505.27 L356.78,503.78 L358.23,502.27 L359.69,500.75 L361.16,499.21 L362.63,497.66 L364.10,496.10 L365.58,494.52 L367.06,492.93 L368.54,491.33 L370.03,489.71 L371.52,488.07 L373.02,486.43 L374.52,484.76 L376.03,483.09 L377.54,481.39 L379.05,479.69 L380.57,477.96 L382.09,476.23 L383.62,474.48 L385.15,472.71 L386.69,470.93 L388.22,469.13 L389.77,467.32 L391.32,465.50 L392.87,463.66 L394.42,461.80 L395.98,459.93 L397.55,458.04 L399.12,456.14 L400.69,454.22 L402.26,452.29 L403.85,450.34 L405.43,448.37 L407.02,446.39 L408.61,444.40 L410.21,442.39 L411.81,440.36 L413.42,438.32 L415.03,436.26 L416.64,434.18 L418.26,432.09 L419.88,429.98 L421.51,427.86 L423.14,425.72 L424.77,423.57 L426.41,421.40 L428.06,419.21 L429.70,417.00 L431.36,414.78 L433.01,412.54 L434.67,410.29 L436.34,408.02 L438.00,405.73 L439.68,403.43 L441.35,401.11 L443.03,398.77 L444.72,396.42 L446.41,394.05 L448.10,391.66 L449.80,389.25 L451.50,386.83 L453.21,384.39 L454.92,381.94 L456.63,379.46 L458.35,376.97 L460.07,374.46 L461.80,371.94 L463.53,369.40 L465.26,366.84 L467.00,364.26 L468.74,361.67 L470.49,359.06 L472.24,356.43 L474.00,353.78 L475.76,351.12 L477.52,348.44 L479.29,345.74 L481.06,343.03 L482.84,340.30 L484.62,337.55 L486.41,334.78 L488.20,332.00 L489.99,329.19 L491.79,326.37 L493.59,323.54 L495.39,320.68 L497.20,317.81 L499.02,314.92 L500.84,312.02 L502.66,309.10 L504.48,306.15 L506.32,303.20 L508.15,300.22 L509.99,297.23 L511.83,294.21 L513.68,291.19 L515.53,288.14 L517.39,285.07 L519.25,281.99 L521.11,278.89 L522.98,275.78 L524.85,272.64 L526.73,269.49 L528.61,266.32 L530.49,263.13 L532.38,259.93 L534.28,256.70 L536.17,253.46 L538.07,250.21 L539.98,246.93 L541.89,243.63 L543.80,240.32 L545.72,236.99 L547.64,233.65 L549.57,230.28 L551.50,226.90 L553.44,223.50 L555.38,220.08 L557.32,216.64 L559.27,213.19 L561.22,209.72 L563.17,206.23 L565.13,202.72 L567.10,199.19 L569.07,195.65 L571.04,192.09 L573.01,188.51 L574.99,184.91 L576.98,181.30 L578.97,177.67 L580.96,174.01 L582.96,170.35 L584.96,166.66 L586.97,162.95 L588.98,159.23 L590.99,155.49 L593.01,151.73 L595.03,147.96 L597.06,144.16 L599.09,140.35 L601.12,136.52 L603.16,132.67 L605.20,128.80 L607.25,124.92 L609.30,121.01 L611.36,117.09 L613.42,113.15 L615.48,109.20 L617.55,105.22 L619.62,101.23 L621.70,97.22" stroke="#ff0000" stroke-width="2.4" stroke-dasharray="4.06,16.24" stroke-dashoffset="10.03"/>
<path d="M103.10,664.75 L103.10,664.38 L103.11,664.00 L103.12,663.63 L103.14,663.25 L103.16,662.88 L103.19,662.50 L103.22,662.12 L103.25,661.75 L103.29,661.37 L103.34,661.00 L103.39,660.62 L103.44,660.25 L103.50,659.87 L103.57,659.50 L103.64,659.12 L103.71,658.75 L103.79,658.38 L103.87,658.00 L103.96,657.63 L104.05,657.26 L104.15,656.88 L104.25,656.51 L104.36,656.14 L104.47,655.77 L104.59,655.40 L104.71,655.03 L104.84,654.66 L104.97,654.29 L105.10,653.92 L105.24,653.56 L105.39,653.19 L105.54,652.82 L105.70,652.46 L105.85,652.10 L106.02,651.73 L106.19,651.37 L106.36,651.01 L106.54,650.65 L106.72,650.29 L106.91,649.94 L107.11,649.58 L107.30,649.22 L107.51,648.87 L107.71,648.52 L107.93,648.16 L108.14,647.81 L108.36,647.47 L108.59,647.12 L108.82,646.77 L109.06,646.43 L109.30,646.08 L109.54,645.74 L109.79,645.40 L110.05,645.06 L110.31,644.73 L110.57,644.39 L110.84,644.06 L111.12,643.73 L111.40,643.40 L111.68,643.07 L111.97,642.74 L112.26,642.42 L112.56,642.09 L112.86,641.77 L113.17,641.45 L113.48,641.14 L113.80,640.82 L114.12,640.51 L114.45,640.20 L114.78,639.89 L115.11,639.58 L115.45,639.28 L115.80,638.98 L116.15,638.68 L116.51,638.38 L116.86,638.09 L117.23,637.80 L117.60,637.51 L117.97,637.22 L118.35,636.93 L118.74,636.65 L119.12,636.37 L119.52,636.09 L119.92,635.82 L120.32,635.55 L120.73,635.28 L121.14,635.01 L121.55,634.75 L121.98,634.48 L122.40,634.23 L122.83,633.97 L123.27,633.72 L123.71,633.47 L124.16,633.22 L124.61,632.98 L125.06,632.74 L125.52,632.50 L125.99,632.27 L126.46,632.04 L126.93,631.81 L127.41,631.58 L127.89,631.36 L128.38,631.14 L128.88,630.93 L129.37,630.72 L129.88,630.51 L130.38,630.31 L130.90,630.10 L131.41,629.91 L131.94,629.71 L132.46,629.52 L132.99,629.34 L133.53,629.15 L134.07,628.97 L134.62,628.79 L135.17,628.62 L135.72,628.45 L136.28,628.28 L136.85,628.11 L137.42,627.95 L137.99,627.79 L138.57,627.64 L139.15,627.48 L139.74,627.33 L140.34,627.18 L140.93,627.04 L141.54,626.89 L142.15,626.75 L142.76,626.61 L143.37,626.48 L144.00,626.34 L144.62,626.21 L145.26,626.08 L145.89,625.96 L146.53,625.83 L147.18,625.71 L147.83,625.59 L148.48,625.47 L149.14,625.35 L149.81,625.23 L150.48,625.12 L151.15,625.01 L151.83,624.90 L152.52,624.79 L153.21,624.68 L153.90,624.57 L154.60,624.47 L155.30,624.36 L156.01,624.26 L156.72,624.16 L157.44,624.06 L158.16,623.96 L158.89,623.86 L159.62,623.77 L160.35,623.67 L161.10,623.57 L161.84,623.48 L162.59,623.39 L163.35,623.29 L164.11,623.20 L164.87,623.11 L165.64,623.02 L166.42,622.93 L167.20,622.84 L167.98,622.75 L168.77,622.66 L169.56,622.57 L170.36,622.48 L171.16,622.39 L171.97,622.30 L172.78,622.21 L173.60,622.12 L174.42,622.03 L175.25,621.94 L176.08,621.85 L176.92,621.76 L177.76,621.67 L178.61,621.58 L179.46,621.48 L180.31,621.39 L181.17,621.30 L182.04,621.21 L182.91,621.11 L183.78,621.02 L184.66,620.92 L185.55,620.83 L186.44,620.73 L187.33,620.63 L188.23,620.53 L189.13,620.43 L190.04,620.33 L190.95,620.22 L191.87,620.12 L192.79,620.01 L193.72,619.91 L194.65,619.80 L195.59,619.69 L196.53,619.58 L197.47,619.46 L198.42,619.34 L199.38,619.23 L200.34,619.11 L201.31,618.98 L202.28,618.86 L203.25,618.73 L204.23,618.60 L205.21,618.47 L206.20,618.33 L207.20,618.19 L208.20,618.05 L209.20,617.91 L210.21,617.76 L211.22,617.61 L212.24,617.46 L213.26,617.30 L214.29,617.14 L215.32,616.97 L216.36,616.80 L217.40,616.63 L218.44,616.46 L219.49,616.28 L220.55,616.09 L221.61,615.90 L222.68,615.71 L223.75,615.52 L224.82,615.31 L225.90,615.11 L226.98,614.90 L228.07,614.68 L229.17,614.46 L230.27,614.24 L231.37,614.01 L232.48,613.77 L233.59,613.53 L234.71,613.29 L235.83,613.04 L236.96,612.78 L238.09,612.52 L239.23,612.25 L240.37,611.98 L241.51,611.70 L242.67,611.41 L243.82,611.12 L244.98,610.83 L246.15,610.52 L247.32,610.21 L248.49,609.90 L249.67,609.57 L250.86,609.24 L252.05,608.91 L253.24,608.56 L254.44,608.21 L255.64,607.86 L256.85,607.49 L258.06,607.12 L259.28,606.74 L260.50,606.36 L261.73,605.96 L262.96,605.56 L264.20,605.15 L265.44,604.74 L266.69,604.31 L267.94,603.88 L269.19,603.44 L270.45,602.99 L271.72,602.53 L272.99,602.07 L274.27,601.59 L275.55,601.11 L276.83,600.62 L278.12,600.12 L279.41,599.61 L280.71,599.10 L282.02,598.57 L283.32,598.03 L284.64,597.49 L285.95,596.94 L287.28,596.37 L288.60,595.80 L289.94,595.22 L291.27,594.63 L292.62,594.02 L293.96,593.41 L295.31,592.79 L296.67,592.16 L298.03,591.52 L299.40,590.87 L300.77,590.20 L302.14,589.53 L303.52,588.85 L304.91,588.15 L306.29,587.45 L307.69,586.73 L309.09,586.01 L310.49,585.27 L311.90,584.52 L313.31,583.76 L314.73,582.99 L316.15,582.21 L317.58,581.42 L319.01,580.61 L320.45,579.80 L321.89,578.97 L323.34,578.13 L324.79,577.27 L326.25,576.41 L327.71,575.53 L329.17,574.64 L330.64,573.74 L332.12,572.83 L333.60,571.90 L335.08,570.97 L336.57,570.01 L338.07,569.05 L339.57,568.07 L341.07,567.08 L342.58,566.08 L344.09,565.06 L345.61,564.03 L347.13,562.99 L348.66,561.93 L350.19,560.87 L351.73,559.78 L353.27,558.68 L354.82,557.57 L356.37,556.45 L357.92,555.31 L359.49,554.16 L361.05,552.99 L362.62,551.81 L364.20,550.61 L365.78,549.40 L367.36,548.17 L368.95,546.93 L370.55,545.68 L372.15,544.41 L373.75,543.13 L375.36,541.83 L376.97,540.51 L378.59,539.18 L380.21,537.84 L381.84,536.48 L383.47,535.10 L385.11,533.71 L386.75,532.30 L388.40,530.88 L390.05,529.44 L391.71,527.98 L393.37,526.51 L395.03,525.03 L396.70,523.53 L398.38,522.01 L400.06,520.47 L401.74,518.92 L403.43,517.36 L405.13,515.77 L406.83,514.18 L408.53,512.56 L410.24,510.93 L411.95,509.28 L413.67,507.62 L415.39,505.94 L417.12,504.24 L418.85,502.52 L420.59,500.79 L422.33,499.04 L424.08,497.28 L425.83,495.50 L427.59,493.70 L429.35,491.88 L431.12,490.05 L432.89,488.20 L434.66,486.33 L436.44,484.45 L438.23,482.55 L440.02,480.63 L441.81,478.69 L443.61,476.74 L445.41,474.77 L447.22,472.78 L449.04,470.77 L450.85,468.75 L452.68,466.70 L454.51,464.64 L456.34,462.56 L458.18,460.47 L460.02,458.35 L461.86,456.22 L463.72,454.07 L465.57,451.90 L467.43,449.72 L469.30,447.51 L471.17,445.29 L473.05,443.05 L474.93,440.79 L476.81,438.51 L478.70,436.21 L480.60,433.89 L482.50,431.56 L484.40,429.21 L486.31,426.83 L488.22,424.44 L490.14,422.03 L492.06,419.60 L493.99,417.15 L495.92,414.69 L497.86,412.20 L499.80,409.69 L501.75,407.17 L503.70,404.62 L505.66,402.06 L507.62,399.48 L509.59,396.87 L511.56,394.25 L513.53,391.61 L515.51,388.95 L517.50,386.27 L519.49,383.56 L521.48,380.84 L523.48,378.10 L525.49,375.34 L527.50,372.56 L529.51,369.76 L531.53,366.94 L533.55,364.09 L535.58,361.23 L537.61,358.35 L539.65,355.45 L541.69,352.52 L543.74,349.58 L545.79,346.61 L547.85,343.63 L549.91,340.62 L551.98,337.59 L554.05,334.54 L556.12,331.47 L558.20,328.38 L560.29,325.26 L562.38,322.13 L564.47,318.97 L566.57,315.79 L568.68,312.59 L570.79,309.37 L572.90,306.13 L575.02,302.86 L577.14,299.57 L579.27,296.26 L581.40,292.93 L583.54,289.57 L585.68,286.19 L587.83,282.79 L589.98,279.37 L592.14,275.92 L594.30,272.45 L596.47,268.96 L598.64,265.44 L600.81,261.90 L602.99,258.35 L605.18,254.77 L607.37,251.16 L609.56,247.54 L611.76,243.90 L613.97,240.23 L616.18,236.55 L618.39,232.84 L620.61,229.12 L622.83,225.37 L625.06,221.61 L627.29,217.82 L629.53,214.02 L631.77,210.20 L634.02,206.36 L636.27,202.50 L638.53,198.62 L640.79,194.72 L643.06,190.81 L645.33,186.88 L647.61,182.93 L649.89,178.96 L652.17,174.98 L654.46,170.98 L656.76,166.96 L659.06,162.93 L661.36,158.88 L663.67,154.82 L665.98,150.74 L668.30,146.64 L670.63,142.53 L672.95,138.40 L675.29,134.26 L677.63,130.11 L679.97,125.94 L682.32,121.75 L684.67,117.56 L687.02,113.35 L689.39,109.12 L691.75,104.88 L694.12,100.63 L696.50,96.37" stroke="#ff0000" stroke-width="2.4" stroke-dasharray="36.54,8.12" stroke-dashoffset="34.58"/>
<path d="M103.10,664.75 L103.10,664.21 L103.11,663.67 L103.13,663.14 L103.15,662.62 L103.17,662.10 L103.20,661.59 L103.24,661.09 L103.28,660.59 L103.33,660.10 L103.38,659.62 L103.44,659.14 L103.51,658.66 L103.58,658.19 L103.66,657.73 L103.74,657.28 L103.83,656.83 L103.92,656.38 L104.02,655.94 L104.13,655.51 L104.24,655.08 L104.36,654.65 L104.48,654.24 L104.61,653.82 L104.74,653.41 L104.88,653.01 L105.03,652.61 L105.18,652.22 L105.33,651.83 L105.50,651.45 L105.66,651.07 L105.84,650.69 L106.02,650.32 L106.20,649.96 L106.39,649.60 L106.59,649.24 L106.79,648.88 L107.00,648.54 L107.22,648.19 L107.43,647.85 L107.66,647.51 L107.89,647.18 L108.13,646.85 L108.37,646.53 L108.62,646.20 L108.87,645.89 L109.13,645.57 L109.40,645.26 L109.67,644.95 L109.94,644.65 L110.22,644.35 L110.51,644.05 L110.81,643.75 L111.11,643.46 L111.41,643.17 L111.72,642.89 L112.04,642.60 L112.36,642.32 L112.69,642.04 L113.02,641.77 L113.36,641.50 L113.70,641.22 L114.06,640.96 L114.41,640.69 L114.77,640.43 L115.14,640.17 L115.51,639.91 L115.89,639.65 L116.28,639.39 L116.67,639.14 L117.06,638.89 L117.47,638.64 L117.87,638.39 L118.29,638.14 L118.71,637.90 L119.13,637.66 L119.56,637.41 L120.00,637.17 L120.44,636.93 L120.89,636.69 L121.34,636.46 L121.80,636.22 L122.26,635.99 L122.73,635.75 L123.21,635.52 L123.69,635.29 L124.18,635.05 L124.67,634.82 L125.17,634.59 L125.67,634.36 L126.18,634.13 L126.70,633.90 L127.22,633.67 L127.75,633.44 L128.28,633.21 L128.82,632.98 L129.37,632.76 L129.92,632.53 L130.47,632.30 L131.03,632.07 L131.60,631.84 L132.17,631.61 L132.75,631.38 L133.34,631.15 L133.93,630.91 L134.52,630.68 L135.12,630.45 L135.73,630.22 L136.34,629.98 L136.96,629.75 L137.58,629.51 L138.21,629.27 L138.85,629.04 L139.49,628.80 L140.14,628.56 L140.79,628.32 L141.45,628.08 L142.11,627.83 L142.78,627.59 L143.46,627.34 L144.14,627.10 L144.83,626.85 L145.52,626.60 L146.22,626.35 L146.92,626.09 L147.63,625.84 L148.35,625.58 L149.07,625.33 L149.79,625.07 L150.53,624.81 L151.26,624.54 L152.01,624.28 L152.76,624.01 L153.51,623.74 L154.27,623.47 L155.04,623.20 L155.81,622.92 L156.59,622.65 L157.38,622.37 L158.16,622.08 L158.96,621.80 L159.76,621.51 L160.57,621.22 L161.38,620.93 L162.20,620.64 L163.02,620.34 L163.85,620.04 L164.69,619.74 L165.53,619.43 L166.37,619.13 L167.22,618.82 L168.08,618.50 L168.95,618.19 L169.82,617.87 L170.69,617.54 L171.57,617.22 L172.46,616.89 L173.35,616.56 L174.25,616.22 L175.15,615.88 L176.06,615.54 L176.97,615.19 L177.90,614.85 L178.82,614.49 L179.75,614.14 L180.69,613.78 L181.63,613.41 L182.58,613.05 L183.54,612.68 L184.50,612.30 L185.46,611.92 L186.44,611.54 L187.41,611.15 L188.40,610.76 L189.39,610.37 L190.38,609.97 L191.38,609.57 L192.39,609.16 L193.40,608.75 L194.42,608.33 L195.44,607.91 L196.47,607.49 L197.50,607.06 L198.54,606.63 L199.59,606.19 L200.64,605.74 L201.70,605.30 L202.76,604.84 L203.83,604.39 L204.90,603.93 L205.98,603.46 L207.07,602.99 L208.16,602.51 L209.26,602.03 L210.36,601.54 L211.47,601.05 L212.59,600.55 L213.71,600.05 L214.83,599.54 L215.96,599.03 L217.10,598.51 L218.24,597.99 L219.39,597.46 L220.55,596.92 L221.71,596.38 L222.87,595.84 L224.04,595.29 L225.22,594.73 L226.40,594.17 L227.59,593.61 L228.78,593.04 L229.98,592.46 L231.19,591.88 L232.40,591.29 L233.62,590.70 L234.84,590.10 L236.07,589.50 L237.30,588.89 L238.54,588.28 L239.79,587.66 L241.04,587.04 L242.30,586.41 L243.56,585.78 L244.83,585.14 L246.10,584.50 L247.38,583.85 L248.67,583.20 L249.96,582.54 L251.25,581.88 L252.56,581.22 L253.86,580.54 L255.18,579.87 L256.50,579.18 L257.82,578.50 L259.15,577.81 L260.49,577.11 L261.83,576.41 L263.18,575.70 L264.53,574.99 L265.89,574.28 L267.26,573.56 L268.63,572.83 L270.01,572.10 L271.39,571.37 L272.78,570.63 L274.17,569.89 L275.57,569.14 L276.97,568.39 L278.39,567.63 L279.80,566.87 L281.22,566.10 L282.65,565.33 L284.09,564.55 L285.52,563.77 L286.97,562.99 L288.42,562.20 L289.88,561.40 L291.34,560.61 L292.81,559.80 L294.28,559.00 L295.76,558.18 L297.24,557.37 L298.73,556.55 L300.23,555.72 L301.73,554.89 L303.24,554.06 L304.75,553.22 L306.27,552.38 L307.80,551.53 L309.33,550.68 L310.86,549.83 L312.41,548.97 L313.95,548.10 L315.51,547.24 L317.07,546.36 L318.63,545.49 L320.20,544.61 L321.78,543.72 L323.36,542.83 L324.95,541.94 L326.54,541.04 L328.14,540.14 L329.74,539.24 L331.35,538.33 L332.97,537.41 L334.59,536.50 L336.22,535.57 L337.85,534.65 L339.49,533.72 L341.13,532.78 L342.78,531.85 L344.44,530.91 L346.10,529.96 L347.77,529.01 L349.44,528.06 L351.12,527.10 L352.80,526.14 L354.49,525.17 L356.19,524.21 L357.89,523.23 L359.60,522.26 L361.31,521.28 L363.03,520.29 L364.75,519.30 L366.48,518.31 L368.22,517.32 L369.96,516.32 L371.71,515.32 L373.46,514.31 L375.22,513.30 L376.98,512.28 L378.75,511.27 L380.53,510.25 L382.31,509.22 L384.10,508.19 L385.89,507.16 L387.69,506.13 L389.49,505.09 L391.30,504.04 L393.12,503.00 L394.94,501.95 L396.77,500.89 L398.60,499.84 L400.44,498.78 L402.28,497.71 L404.13,496.65 L405.99,495.58 L407.85,494.50 L409.71,493.43 L411.59,492.35 L413.46,491.26 L415.35,490.17 L417.24,489.08 L419.13,487.99 L421.03,486.89 L422.94,485.79 L424.85,484.69 L426.77,483.58 L428.69,482.47 L430.62,481.35 L432.56,480.23 L434.50,479.11 L436.45,477.98 L438.40,476.85 L440.36,475.72 L442.32,474.58 L444.29,473.44 L446.26,472.29 L448.25,471.14 L450.23,469.98 L452.22,468.82 L454.22,467.66 L456.22,466.49 L458.23,465.32 L460.25,464.14 L462.27,462.95 L464.30,461.77 L466.33,460.57 L468.37,459.37 L470.41,458.17 L472.46,456.96 L474.51,455.75 L476.57,454.53 L478.64,453.31 L480.71,452.08 L482.79,450.84 L484.87,449.60 L486.96,448.36 L489.06,447.11 L491.16,445.85 L493.26,444.58 L495.38,443.32 L497.49,442.04 L499.62,440.76 L501.74,439.47 L503.88,438.18 L506.02,436.88 L508.17,435.58 L510.32,434.26 L512.48,432.95 L514.64,431.62 L516.81,430.29 L518.98,428.95 L521.16,427.61 L523.35,426.26 L525.54,424.90 L527.74,423.54 L529.94,422.16 L532.15,420.79 L534.36,419.40 L536.58,418.01 L538.81,416.61 L541.04,415.20 L543.28,413.79 L545.52,412.36 L547.77,410.93 L550.02,409.50 L552.28,408.05 L554.55,406.60 L556.82,405.14 L559.10,403.67 L561.38,402.20 L563.67,400.71 L565.96,399.22 L568.26,397.72 L570.57,396.21 L572.88,394.70 L575.20,393.17 L577.52,391.64 L579.85,390.10 L582.18,388.55 L584.52,386.99 L586.87,385.43 L589.22,383.85 L591.58,382.27 L593.94,380.67 L596.31,379.07 L598.68,377.46 L601.06,375.84 L603.45,374.21 L605.84,372.58 L608.23,370.93 L610.64,369.27 L613.05,367.61 L615.46,365.93 L617.88,364.25 L620.30,362.55 L622.74,360.85 L625.17,359.14 L627.61,357.41 L630.06,355.68 L632.52,353.94 L634.98,352.18 L637.44,350.42 L639.91,348.65 L642.39,346.86 L644.87,345.07 L647.36,343.27 L649.85,341.45 L652.35,339.63 L654.86,337.79 L657.37,335.95 L659.89,334.09 L662.41,332.22 L664.94,330.35 L667.47,328.46 L670.01,326.56 L672.55,324.65 L675.10,322.73 L677.66,320.79 L680.22,318.85 L682.79,316.90 L685.36,314.93 L687.94,312.95 L690.53,310.96 L693.12,308.96 L695.72,306.95 L698.32,304.93 L700.92,302.89 L703.54,300.84 L706.16,298.79 L708.78,296.71 L711.41,294.63 L714.05,292.54 L716.69,290.43 L719.34,288.31 L721.99,286.18 L724.65,284.04 L727.32,281.88 L729.99,279.71 L732.66,277.53 L735.34,275.34 L738.03,273.13 L740.73,270.91 L743.42,268.68 L746.13,266.43 L748.84,264.18 L751.56,261.91 L754.28,259.62 L757.00,257.32 L759.74,255.01 L762.48,252.69 L765.22,250.35 L767.97,248.00 L770.73,245.64 L773.49,243.26 L776.26,240.87 L779.03,238.47 L781.81,236.05 L784.59,233.62 L787.38,231.17 L790.18,228.71 L792.98,226.24 L795.79,223.75 L798.60,221.25 L801.42,218.74 L804.24,216.21 L807.07,213.66 L809.91,211.10 L812.75,208.53" stroke="#0000ff" stroke-width="2.4" stroke-dasharray="36.54,8.12,8.12,36.54" stroke-dashoffset="78.26"/>
<path d="M103.10,664.75 L103.10,664.14 L103.11,663.55 L103.13,662.96 L103.15,662.37 L103.17,661.80 L103.20,661.23 L103.24,660.67 L103.28,660.12 L103.33,659.58 L103.38,659.04 L103.44,658.51 L103.51,657.99 L103.58,657.47 L103.66,656.96 L103.74,656.46 L103.83,655.96 L103.92,655.47 L104.02,654.99 L104.13,654.51 L104.24,654.04 L104.36,653.57 L104.48,653.11 L104.61,652.66 L104.74,652.21 L104.88,651.77 L105.03,651.33 L105.18,650.90 L105.33,650.47 L105.50,650.05 L105.66,649.63 L105.84,649.22 L106.02,648.82 L106.20,648.41 L106.39,648.02 L106.59,647.63 L106.79,647.24 L107.00,646.85 L107.22,646.47 L107.43,646.10 L107.66,645.73 L107.89,645.36 L108.13,645.00 L108.37,644.64 L108.62,644.28 L108.87,643.93 L109.13,643.58 L109.40,643.23 L109.67,642.89 L109.94,642.55 L110.22,642.21 L110.51,641.88 L110.81,641.55 L111.11,641.22 L111.41,640.89 L111.72,640.57 L112.04,640.25 L112.36,639.93 L112.69,639.61 L113.02,639.30 L113.36,638.98 L113.70,638.67 L114.06,638.36 L114.41,638.05 L114.77,637.75 L115.14,637.44 L115.51,637.14 L115.89,636.84 L116.28,636.53 L116.67,636.23 L117.06,635.93 L117.47,635.63 L117.87,635.34 L118.29,635.04 L118.71,634.74 L119.13,634.44 L119.56,634.15 L120.00,633.85 L120.44,633.55 L120.89,633.26 L121.34,632.96 L121.80,632.66 L122.26,632.36 L122.73,632.06 L123.21,631.77 L123.69,631.47 L124.18,631.17 L124.67,630.86 L125.17,630.56 L125.67,630.26 L126.18,629.95 L126.70,629.65 L127.22,629.34 L127.75,629.03 L128.28,628.72 L128.82,628.41 L129.37,628.09 L129.92,627.77 L130.47,627.46 L131.03,627.13 L131.60,626.81 L132.17,626.49 L132.75,626.16 L133.34,625.83 L133.93,625.49 L134.52,625.16 L135.12,624.82 L135.73,624.47 L136.34,624.13 L136.96,623.78 L137.58,623.43 L138.21,623.07 L138.85,622.71 L139.49,622.35 L140.14,621.98 L140.79,621.61 L141.45,621.24 L142.11,620.86 L142.78,620.48 L143.46,620.09 L144.14,619.70 L144.83,619.30 L145.52,618.90 L146.22,618.50 L146.92,618.09 L147.63,617.67 L148.35,617.25 L149.07,616.82 L149.79,616.40 L150.53,615.96 L151.26,615.52 L152.01,615.08 L152.76,614.63 L153.51,614.17 L154.27,613.72 L155.04,613.25 L155.81,612.79 L156.59,612.31 L157.38,611.84 L158.16,611.36 L158.96,610.87 L159.76,610.38 L160.57,609.89 L161.38,609.39 L162.20,608.89 L163.02,608.38 L163.85,607.87 L164.69,607.36 L165.53,606.84 L166.37,606.31 L167.22,605.78 L168.08,605.25 L168.95,604.72 L169.82,604.18 L170.69,603.63 L171.57,603.09 L172.46,602.54 L173.35,601.98 L174.25,601.42 L175.15,600.86 L176.06,600.29 L176.97,599.72 L177.90,599.15 L178.82,598.57 L179.75,597.99 L180.69,597.41 L181.63,596.82 L182.58,596.23 L183.54,595.63 L184.50,595.03 L185.46,594.43 L186.44,593.82 L187.41,593.22 L188.40,592.60 L189.39,591.99 L190.38,591.37 L191.38,590.75 L192.39,590.12 L193.40,589.50 L194.42,588.87 L195.44,588.23 L196.47,587.59 L197.50,586.95 L198.54,586.31 L199.59,585.67 L200.64,585.02 L201.70,584.37 L202.76,583.71 L203.83,583.05 L204.90,582.39 L205.98,581.73 L207.07,581.07 L208.16,580.40 L209.26,579.73 L210.36,579.06 L211.47,578.38 L212.59,577.70 L213.71,577.02 L214.83,576.34 L215.96,575.65 L217.10,574.97 L218.24,574.28 L219.39,573.58 L220.55,572.89 L221.71,572.19 L222.87,571.49 L224.04,570.79 L225.22,570.09 L226.40,569.38 L227.59,568.68 L228.78,567.97 L229.98,567.26 L231.19,566.55 L232.40,565.84 L233.62,565.12 L234.84,564.41 L236.07,563.70 L237.30,562.98 L238.54,562.27 L239.79,561.55 L241.04,560.83 L242.30,560.12 L243.56,559.40 L244.83,558.69 L246.10,557.97 L247.38,557.26 L248.67,556.54 L249.96,555.83 L251.25,555.12 L252.56,554.41 L253.86,553.70 L255.18,552.99 L256.50,552.28 L257.82,551.58 L259.15,550.87 L260.49,550.17 L261.83,549.47 L263.18,548.77 L264.53,548.08 L265.89,547.39 L267.26,546.70 L268.63,546.01 L270.01,545.32 L271.39,544.64 L272.78,543.96 L274.17,543.29 L275.57,542.62 L276.97,541.95 L278.39,541.28 L279.80,540.62 L281.22,539.96 L282.65,539.31 L284.09,538.66 L285.52,538.02 L286.97,537.38 L288.42,536.74 L289.88,536.11 L291.34,535.49 L292.81,534.87 L294.28,534.25 L295.76,533.64 L297.24,533.04 L298.73,532.44 L300.23,531.85 L301.73,531.26 L303.24,530.68 L304.75,530.10 L306.27,529.53 L307.80,528.97 L309.33,528.42 L310.86,527.87 L312.41,527.32 L313.95,526.79 L315.51,526.26 L317.07,525.74 L318.63,525.22 L320.20,524.71 L321.78,524.20 L323.36,523.70 L324.95,523.21 L326.54,522.72 L328.14,522.24 L329.74,521.76 L331.35,521.29 L332.97,520.82 L334.59,520.36 L336.22,519.90 L337.85,519.45 L339.49,519.00 L341.13,518.55 L342.78,518.11 L344.44,517.67 L346.10,517.24 L347.77,516.81 L349.44,516.38 L351.12,515.95 L352.80,515.53 L354.49,515.11 L356.19,514.70 L357.89,514.29 L359.60,513.88 L361.31,513.47 L363.03,513.06 L364.75,512.66 L366.48,512.26 L368.22,511.86 L369.96,511.46 L371.71,511.06 L373.46,510.66 L375.22,510.27 L376.98,509.88 L378.75,509.48 L380.53,509.09 L382.31,508.70 L384.10,508.31 L385.89,507.92 L387.69,507.53 L389.49,507.14 L391.30,506.74 L393.12,506.35 L394.94,505.96 L396.77,505.57 L398.60,505.18 L400.44,504.78 L402.28,504.39 L404.13,503.99 L405.99,503.59 L407.85,503.19 L409.71,502.79 L411.59,502.39 L413.46,501.98 L415.35,501.58 L417.24,501.17 L419.13,500.75 L421.03,500.34 L422.94,499.92 L424.85,499.50 L426.77,499.08 L428.69,498.65 L430.62,498.23 L432.56,497.79 L434.50,497.36 L436.45,496.92 L438.40,496.47 L440.36,496.02 L442.32,495.57 L444.29,495.11 L446.26,494.65 L448.25,494.18 L450.23,493.71 L452.22,493.23 L454.22,492.75 L456.22,492.26 L458.23,491.77 L460.25,491.27 L462.27,490.76 L464.30,490.25 L466.33,489.73 L468.37,489.20 L470.41,488.67 L472.46,488.13 L474.51,487.58 L476.57,487.02 L478.64,486.46 L480.71,485.89 L482.79,485.31 L484.87,484.72 L486.96,484.13 L489.06,483.53 L491.16,482.91 L493.26,482.29 L495.38,481.66 L497.49,481.02 L499.62,480.37 L501.74,479.71 L503.88,479.05 L506.02,478.37 L508.17,477.68 L510.32,476.98 L512.48,476.27 L514.64,475.55 L516.81,474.82 L518.98,474.08 L521.16,473.32 L523.35,472.56 L525.54,471.78 L527.74,470.99 L529.94,470.19 L532.15,469.38 L534.36,468.56 L536.58,467.72 L538.81,466.87 L541.04,466.01 L543.28,465.13 L545.52,464.24 L547.77,463.34 L550.02,462.43 L552.28,461.50 L554.55,460.55 L556.82,459.59 L559.10,458.62 L561.38,457.64 L563.67,456.63 L565.96,455.62 L568.26,454.59 L570.57,453.54 L572.88,452.48 L575.20,451.40 L577.52,450.31 L579.85,449.20 L582.18,448.07 L584.52,446.93 L586.87,445.77 L589.22,444.60 L591.58,443.41 L593.94,442.20 L596.31,440.97 L598.68,439.73 L601.06,438.47 L603.45,437.19 L605.84,435.90 L608.23,434.58 L610.64,433.25 L613.05,431.90 L615.46,430.53 L617.88,429.14 L620.30,427.73 L622.74,426.30 L625.17,424.86 L627.61,423.39 L630.06,421.91 L632.52,420.40 L634.98,418.88 L637.44,417.33 L639.91,415.76 L642.39,414.18 L644.87,412.57 L647.36,410.94 L649.85,409.30 L652.35,407.63 L654.86,405.94 L657.37,404.23 L659.89,402.50 L662.41,400.75 L664.94,398.98 L667.47,397.18 L670.01,395.37 L672.55,393.54 L675.10,391.68 L677.66,389.80 L680.22,387.90 L682.79,385.98 L685.36,384.04 L687.94,382.08 L690.53,380.10 L693.12,378.09 L695.72,376.07 L698.32,374.02 L700.92,371.95 L703.54,369.86 L706.16,367.75 L708.78,365.61 L711.41,363.46 L714.05,361.28 L716.69,359.08 L719.34,356.85 L721.99,354.61 L724.65,352.34 L727.32,350.06 L729.99,347.75 L732.66,345.41 L735.34,343.06 L738.03,340.68 L740.73,338.28 L743.42,335.86 L746.13,333.41 L748.84,330.94 L751.56,328.45 L754.28,325.94 L757.00,323.41 L759.74,320.85 L762.48,318.27 L765.22,315.66 L767.97,313.03 L770.73,310.38 L773.49,307.71 L776.26,305.02 L779.03,302.30 L781.81,299.55 L784.59,296.79 L787.38,294.00 L790.18,291.18 L792.98,288.35 L795.79,285.49 L798.60,282.61 L801.42,279.70 L804.24,276.77 L807.07,273.81 L809.91,270.84 L812.75,267.83" stroke="#0000ff" stroke-width="2.4" stroke-dasharray="16.24,4.06,4.06,16.24" stroke-dashoffset="29.84"/>
<path d="M103.10,664.75 L103.10,664.22 L103.11,663.70 L103.12,663.18 L103.14,662.66 L103.17,662.14 L103.20,661.63 L103.23,661.12 L103.27,660.61 L103.32,660.11 L103.37,659.60 L103.43,659.10 L103.49,658.60 L103.56,658.11 L103.63,657.61 L103.71,657.12 L103.80,656.63 L103.89,656.14 L103.98,655.66 L104.08,655.18 L104.19,654.69 L104.30,654.22 L104.42,653.74 L104.54,653.27 L104.67,652.79 L104.80,652.32 L104.94,651.86 L105.08,651.39 L105.23,650.93 L105.39,650.47 L105.55,650.01 L105.71,649.55 L105.88,649.09 L106.06,648.64 L106.24,648.18 L106.43,647.73 L106.62,647.29 L106.82,646.84 L107.03,646.39 L107.24,645.95 L107.45,645.51 L107.67,645.07 L107.90,644.63 L108.13,644.19 L108.36,643.76 L108.61,643.32 L108.85,642.89 L109.11,642.46 L109.37,642.03 L109.63,641.61 L109.90,641.18 L110.17,640.76 L110.45,640.33 L110.74,639.91 L111.03,639.49 L111.33,639.07 L111.63,638.65 L111.94,638.24 L112.25,637.82 L112.57,637.41 L112.89,637.00 L113.22,636.58 L113.55,636.17 L113.89,635.76 L114.24,635.36 L114.59,634.95 L114.95,634.54 L115.31,634.14 L115.67,633.73 L116.05,633.33 L116.43,632.93 L116.81,632.53 L117.20,632.13 L117.59,631.73 L117.99,631.33 L118.40,630.93 L118.81,630.54 L119.22,630.14 L119.65,629.75 L120.07,629.35 L120.50,628.96 L120.94,628.57 L121.39,628.17 L121.83,627.78 L122.29,627.39 L122.75,627.00 L123.21,626.61 L123.68,626.22 L124.16,625.83 L124.64,625.45 L125.13,625.06 L125.62,624.67 L126.12,624.28 L126.62,623.90 L127.13,623.51 L127.64,623.13 L128.16,622.74 L128.69,622.36 L129.22,621.97 L129.75,621.59 L130.29,621.20 L130.84,620.82 L131.39,620.44 L131.95,620.05 L132.51,619.67 L133.08,619.29 L133.66,618.90 L134.24,618.52 L134.82,618.14 L135.41,617.75 L136.01,617.37 L136.61,616.99 L137.21,616.60 L137.82,616.22 L138.44,615.84 L139.06,615.45 L139.69,615.07 L140.33,614.68 L140.97,614.30 L141.61,613.92 L142.26,613.53 L142.92,613.15 L143.58,612.76 L144.24,612.38 L144.91,611.99 L145.59,611.60 L146.27,611.22 L146.96,610.83 L147.66,610.44 L148.35,610.05 L149.06,609.67 L149.77,609.28 L150.48,608.89 L151.20,608.50 L151.93,608.11 L152.66,607.71 L153.40,607.32 L154.14,606.93 L154.89,606.54 L155.64,606.14 L156.40,605.75 L157.17,605.35 L157.94,604.95 L158.71,604.56 L159.49,604.16 L160.28,603.76 L161.07,603.36 L161.86,602.96 L162.67,602.56 L163.47,602.16 L164.29,601.75 L165.11,601.35 L165.93,600.94 L166.76,600.53 L167.59,600.13 L168.44,599.72 L169.28,599.31 L170.13,598.90 L170.99,598.48 L171.85,598.07 L172.72,597.65 L173.59,597.24 L174.47,596.82 L175.35,596.40 L176.24,595.98 L177.14,595.56 L178.04,595.14 L178.94,594.71 L179.85,594.29 L180.77,593.86 L181.69,593.43 L182.62,593.00 L183.55,592.57 L184.49,592.13 L185.43,591.70 L186.38,591.26 L187.34,590.83 L188.30,590.39 L189.26,589.94 L190.23,589.50 L191.21,589.06 L192.19,588.61 L193.18,588.16 L194.17,587.71 L195.17,587.26 L196.17,586.80 L197.18,586.35 L198.20,585.89 L199.22,585.43 L200.24,584.97 L201.27,584.51 L202.31,584.04 L203.35,583.57 L204.40,583.10 L205.45,582.63 L206.51,582.16 L207.57,581.68 L208.64,581.20 L209.71,580.72 L210.79,580.24 L211.88,579.76 L212.97,579.27 L214.07,578.78 L215.17,578.29 L216.27,577.79 L217.39,577.30 L218.50,576.80 L219.63,576.30 L220.76,575.80 L221.89,575.29 L223.03,574.78 L224.17,574.27 L225.32,573.76 L226.48,573.24 L227.64,572.72 L228.81,572.20 L229.98,571.68 L231.16,571.15 L232.34,570.62 L233.53,570.09 L234.72,569.56 L235.92,569.02 L237.13,568.48 L238.34,567.94 L239.55,567.39 L240.77,566.85 L242.00,566.29 L243.23,565.74 L244.47,565.18 L245.71,564.62 L246.96,564.06 L248.21,563.49 L249.47,562.92 L250.74,562.35 L252.01,561.77 L253.28,561.19 L254.56,560.60 L255.85,560.01 L257.14,559.42 L258.44,558.83 L259.74,558.23 L261.05,557.62 L262.36,557.02 L263.68,556.40 L265.01,555.79 L266.34,555.17 L267.67,554.55 L269.01,553.92 L270.36,553.28 L271.71,552.65 L273.07,552.01 L274.43,551.36 L275.80,550.71 L277.17,550.05 L278.55,549.39 L279.93,548.73 L281.32,548.06 L282.72,547.39 L284.12,546.71 L285.52,546.02 L286.94,545.33 L288.35,544.64 L289.78,543.94 L291.20,543.23 L292.64,542.52 L294.07,541.81 L295.52,541.09 L296.97,540.36 L298.42,539.63 L299.88,538.89 L301.35,538.14 L302.82,537.40 L304.30,536.64 L305.78,535.88 L307.27,535.11 L308.76,534.34 L310.26,533.56 L311.76,532.78 L313.27,531.98 L314.79,531.19 L316.31,530.38 L317.83,529.57 L319.36,528.76 L320.90,527.93 L322.44,527.10 L323.99,526.27 L325.54,525.43 L327.10,524.58 L328.66,523.72 L330.23,522.86 L331.81,521.99 L333.39,521.11 L334.97,520.23 L336.56,519.33 L338.16,518.44 L339.76,517.53 L341.37,516.62 L342.98,515.70 L344.60,514.77 L346.22,513.84 L347.85,512.89 L349.49,511.94 L351.13,510.99 L352.77,510.02 L354.42,509.05 L356.08,508.07 L357.74,507.08 L359.41,506.08 L361.08,505.08 L362.76,504.06 L364.44,503.04 L366.13,502.01 L367.82,500.97 L369.52,499.93 L371.23,498.87 L372.94,497.81 L374.66,496.74 L376.38,495.66 L378.10,494.57 L379.84,493.48 L381.57,492.37 L383.32,491.26 L385.07,490.13 L386.82,489.00 L388.58,487.86 L390.34,486.71 L392.11,485.55 L393.89,484.38 L395.67,483.20 L397.46,482.02 L399.25,480.82 L401.05,479.61 L402.85,478.40 L404.66,477.17 L406.47,475.94 L408.29,474.70 L410.12,473.44 L411.95,472.18 L413.78,470.91 L415.62,469.62 L417.47,468.33 L419.32,467.03 L421.18,465.71 L423.04,464.39 L424.91,463.05 L426.78,461.71 L428.66,460.36 L430.55,458.99 L432.44,457.62 L434.33,456.23 L436.23,454.83 L438.14,453.43 L440.05,452.01 L441.97,450.58 L443.89,449.14 L445.82,447.69 L447.75,446.23 L449.69,444.76 L451.64,443.28 L453.59,441.78 L455.54,440.28 L457.50,438.76 L459.47,437.23 L461.44,435.69 L463.42,434.14 L465.40,432.58 L467.39,431.01 L469.38,429.42 L471.38,427.82 L473.39,426.22 L475.40,424.60 L477.41,422.96 L479.43,421.32 L481.46,419.66 L483.49,418.00 L485.53,416.32 L487.57,414.62 L489.62,412.92 L491.67,411.20 L493.73,409.47 L495.79,407.73 L497.86,405.98 L499.94,404.21 L502.02,402.43 L504.10,400.64 L506.19,398.84 L508.29,397.02 L510.39,395.19 L512.50,393.35 L514.61,391.50 L516.73,389.63 L518.85,387.75 L520.98,385.86 L523.12,383.95 L525.26,382.03 L527.40,380.10 L529.56,378.15 L531.71,376.19 L533.87,374.22 L536.04,372.23 L538.21,370.23 L540.39,368.22 L542.58,366.19 L544.77,364.15 L546.96,362.10 L549.16,360.03 L551.37,357.95 L553.58,355.85 L555.79,353.74 L558.02,351.62 L560.24,349.48 L562.48,347.33 L564.71,345.16 L566.96,342.98 L569.21,340.78 L571.46,338.58 L573.72,336.35 L575.99,334.11 L578.26,331.86 L580.53,329.60 L582.81,327.31 L585.10,325.02 L587.39,322.71 L589.69,320.38 L591.99,318.04 L594.30,315.69 L596.62,313.31 L598.94,310.93 L601.26,308.53 L603.59,306.11 L605.93,303.68 L608.27,301.24 L610.62,298.77 L612.97,296.30 L615.33,293.80 L617.69,291.30 L620.06,288.77 L622.43,286.23 L624.81,283.68 L627.20,281.11 L629.59,278.52 L631.98,275.92 L634.39,273.30 L636.79,270.67 L639.20,268.02 L641.62,265.36 L644.05,262.67 L646.47,259.98 L648.91,257.26 L651.35,254.53 L653.79,251.78 L656.24,249.02 L658.70,246.24 L661.16,243.44 L663.63,240.63 L666.10,237.80 L668.58,234.96 L671.06,232.09 L673.55,229.21 L676.04,226.32 L678.54,223.40 L681.04,220.47 L683.55,217.52 L686.07,214.56 L688.59,211.58 L691.12,208.58 L693.65,205.56 L696.19,202.53 L698.73,199.48 L701.28,196.41 L703.83,193.32 L706.39,190.22 L708.95,187.10 L711.52,183.96 L714.10,180.80 L716.68,177.63 L719.27,174.44 L721.86,171.23 L724.45,168.00 L727.06,164.75 L729.67,161.49 L732.28,158.21 L734.90,154.91 L737.52,151.59 L740.15,148.25 L742.79,144.90 L745.43,141.52 L748.07,138.13 L750.72,134.72 L753.38,131.29 L756.04,127.85 L758.71,124.38 L761.39,120.89 L764.06,117.39 L766.75,113.87 L769.44,110.33 L772.13,106.76 L774.83,103.19 L777.54,99.59 L780.25,95.97" stroke="#008000" stroke-width="2.4" stroke-dasharray="32.48,8.12,4.06,8.12" stroke-dashoffset="28.13"/>
<path d="M103.10,664.75 L103.10,664.14 L103.11,663.53 L103.13,662.93 L103.15,662.33 L103.17,661.74 L103.20,661.15 L103.24,660.56 L103.28,659.98 L103.33,659.40 L103.38,658.83 L103.44,658.26 L103.51,657.70 L103.58,657.13 L103.66,656.57 L103.74,656.02 L103.83,655.46 L103.92,654.92 L104.02,654.37 L104.13,653.82 L104.24,653.28 L104.36,652.75 L104.48,652.21 L104.61,651.68 L104.74,651.14 L104.88,650.62 L105.03,650.09 L105.18,649.56 L105.33,649.04 L105.50,648.52 L105.66,648.00 L105.84,647.48 L106.02,646.97 L106.20,646.45 L106.39,645.94 L106.59,645.43 L106.79,644.91 L107.00,644.40 L107.22,643.89 L107.43,643.38 L107.66,642.88 L107.89,642.37 L108.13,641.86 L108.37,641.35 L108.62,640.85 L108.87,640.34 L109.13,639.83 L109.40,639.33 L109.67,638.82 L109.94,638.31 L110.22,637.80 L110.51,637.29 L110.81,636.78 L111.11,636.27 L111.41,635.76 L111.72,635.25 L112.04,634.74 L112.36,634.22 L112.69,633.71 L113.02,633.19 L113.36,632.67 L113.70,632.15 L114.06,631.63 L114.41,631.11 L114.77,630.58 L115.14,630.05 L115.51,629.52 L115.89,628.99 L116.28,628.46 L116.67,627.92 L117.06,627.38 L117.47,626.84 L117.87,626.30 L118.29,625.76 L118.71,625.21 L119.13,624.66 L119.56,624.11 L120.00,623.56 L120.44,623.01 L120.89,622.45 L121.34,621.90 L121.80,621.34 L122.26,620.78 L122.73,620.21 L123.21,619.65 L123.69,619.09 L124.18,618.52 L124.67,617.95 L125.17,617.38 L125.67,616.81 L126.18,616.23 L126.70,615.66 L127.22,615.08 L127.75,614.50 L128.28,613.93 L128.82,613.35 L129.37,612.76 L129.92,612.18 L130.47,611.60 L131.03,611.01 L131.60,610.42 L132.17,609.83 L132.75,609.24 L133.34,608.65 L133.93,608.06 L134.52,607.47 L135.12,606.87 L135.73,606.28 L136.34,605.68 L136.96,605.08 L137.58,604.49 L138.21,603.89 L138.85,603.29 L139.49,602.68 L140.14,602.08 L140.79,601.48 L141.45,600.87 L142.11,600.27 L142.78,599.66 L143.46,599.06 L144.14,598.45 L144.83,597.84 L145.52,597.23 L146.22,596.62 L146.92,596.01 L147.63,595.40 L148.35,594.79 L149.07,594.18 L149.79,593.56 L150.53,592.95 L151.26,592.34 L152.01,591.72 L152.76,591.11 L153.51,590.49 L154.27,589.88 L155.04,589.26 L155.81,588.64 L156.59,588.03 L157.38,587.41 L158.16,586.80 L158.96,586.18 L159.76,585.56 L160.57,584.94 L161.38,584.33 L162.20,583.71 L163.02,583.09 L163.85,582.48 L164.69,581.86 L165.53,581.24 L166.37,580.63 L167.22,580.01 L168.08,579.40 L168.95,578.78 L169.82,578.17 L170.69,577.55 L171.57,576.94 L172.46,576.32 L173.35,575.71 L174.25,575.10 L175.15,574.49 L176.06,573.88 L176.97,573.26 L177.90,572.66 L178.82,572.05 L179.75,571.44 L180.69,570.83 L181.63,570.22 L182.58,569.62 L183.54,569.01 L184.50,568.41 L185.46,567.81 L186.44,567.20 L187.41,566.60 L188.40,566.00 L189.39,565.41 L190.38,564.81 L191.38,564.21 L192.39,563.62 L193.40,563.03 L194.42,562.43 L195.44,561.84 L196.47,561.25 L197.50,560.67 L198.54,560.08 L199.59,559.50 L200.64,558.91 L201.70,558.33 L202.76,557.75 L203.83,557.17 L204.90,556.60 L205.98,556.02 L207.07,555.45 L208.16,554.88 L209.26,554.31 L210.36,553.74 L211.47,553.18 L212.59,552.61 L213.71,552.05 L214.83,551.49 L215.96,550.94 L217.10,550.38 L218.24,549.83 L219.39,549.28 L220.55,548.73 L221.71,548.19 L222.87,547.64 L224.04,547.10 L225.22,546.56 L226.40,546.03 L227.59,545.49 L228.78,544.96 L229.98,544.43 L231.19,543.91 L232.40,543.39 L233.62,542.86 L234.84,542.35 L236.07,541.83 L237.30,541.32 L238.54,540.81 L239.79,540.30 L241.04,539.80 L242.30,539.30 L243.56,538.80 L244.83,538.31 L246.10,537.82 L247.38,537.33 L248.67,536.84 L249.96,536.36 L251.25,535.88 L252.56,535.40 L253.86,534.93 L255.18,534.46 L256.50,534.00 L257.82,533.53 L259.15,533.08 L260.49,532.62 L261.83,532.17 L263.18,531.72 L264.53,531.27 L265.89,530.83 L267.26,530.39 L268.63,529.96 L270.01,529.52 L271.39,529.09 L272.78,528.66 L274.17,528.24 L275.57,527.81 L276.97,527.39 L278.39,526.97 L279.80,526.55 L281.22,526.14 L282.65,525.72 L284.09,525.31 L285.52,524.89 L286.97,524.48 L288.42,524.07 L289.88,523.66 L291.34,523.24 L292.81,522.83 L294.28,522.42 L295.76,522.01 L297.24,521.60 L298.73,521.19 L300.23,520.78 L301.73,520.37 L303.24,519.96 L304.75,519.54 L306.27,519.13 L307.80,518.71 L309.33,518.30 L310.86,517.88 L312.41,517.46 L313.95,517.04 L315.51,516.61 L317.07,516.19 L318.63,515.76 L320.20,515.33 L321.78,514.89 L323.36,514.46 L324.95,514.02 L326.54,513.58 L328.14,513.13 L329.74,512.68 L331.35,512.23 L332.97,511.78 L334.59,511.32 L336.22,510.86 L337.85,510.39 L339.49,509.92 L341.13,509.44 L342.78,508.96 L344.44,508.48 L346.10,507.99 L347.77,507.50 L349.44,507.00 L351.12,506.49 L352.80,505.98 L354.49,505.47 L356.19,504.95 L357.89,504.42 L359.60,503.89 L361.31,503.35 L363.03,502.80 L364.75,502.25 L366.48,501.69 L368.22,501.13 L369.96,500.56 L371.71,499.98 L373.46,499.39 L375.22,498.80 L376.98,498.20 L378.75,497.59 L380.53,496.97 L382.31,496.35 L384.10,495.72 L385.89,495.07 L387.69,494.43 L389.49,493.77 L391.30,493.10 L393.12,492.43 L394.94,491.74 L396.77,491.05 L398.60,490.35 L400.44,489.64 L402.28,488.92 L404.13,488.18 L405.99,487.44 L407.85,486.69 L409.71,485.93 L411.59,485.16 L413.46,484.38 L415.35,483.59 L417.24,482.78 L419.13,481.97 L421.03,481.14 L422.94,480.31 L424.85,479.46 L426.77,478.60 L428.69,477.73 L430.62,476.85 L432.56,475.95 L434.50,475.04 L436.45,474.12 L438.40,473.19 L440.36,472.25 L442.32,471.29 L444.29,470.32 L446.26,469.34 L448.25,468.34 L450.23,467.33 L452.22,466.31 L454.22,465.27 L456.22,464.22 L458.23,463.16 L460.25,462.08 L462.27,460.99 L464.30,459.88 L466.33,458.76 L468.37,457.63 L470.41,456.47 L472.46,455.31 L474.51,454.13 L476.57,452.93 L478.64,451.72 L480.71,450.49 L482.79,449.25 L484.87,447.99 L486.96,446.72 L489.06,445.43 L491.16,444.12 L493.26,442.80 L495.38,441.46 L497.49,440.10 L499.62,438.73 L501.74,437.34 L503.88,435.94 L506.02,434.52 L508.17,433.08 L510.32,431.63 L512.48,430.15 L514.64,428.67 L516.81,427.16 L518.98,425.64 L521.16,424.10 L523.35,422.54 L525.54,420.97 L527.74,419.37 L529.94,417.76 L532.15,416.14 L534.36,414.49 L536.58,412.83 L538.81,411.15 L541.04,409.45 L543.28,407.73 L545.52,406.00 L547.77,404.25 L550.02,402.48 L552.28,400.69 L554.55,398.88 L556.82,397.05 L559.10,395.21 L561.38,393.35 L563.67,391.46 L565.96,389.56 L568.26,387.64 L570.57,385.70 L572.88,383.75 L575.20,381.77 L577.52,379.77 L579.85,377.76 L582.18,375.72 L584.52,373.67 L586.87,371.59 L589.22,369.50 L591.58,367.39 L593.94,365.25 L596.31,363.10 L598.68,360.93 L601.06,358.73 L603.45,356.52 L605.84,354.29 L608.23,352.04 L610.64,349.76 L613.05,347.47 L615.46,345.16 L617.88,342.82 L620.30,340.47 L622.74,338.09 L625.17,335.70 L627.61,333.28 L630.06,330.85 L632.52,328.39 L634.98,325.92 L637.44,323.42 L639.91,320.90 L642.39,318.36 L644.87,315.80 L647.36,313.22 L649.85,310.62 L652.35,307.99 L654.86,305.35 L657.37,302.69 L659.89,300.00 L662.41,297.29 L664.94,294.56 L667.47,291.81 L670.01,289.04 L672.55,286.25 L675.10,283.43 L677.66,280.60 L680.22,277.74 L682.79,274.86 L685.36,271.96 L687.94,269.04 L690.53,266.09 L693.12,263.13 L695.72,260.14 L698.32,257.13 L700.92,254.10 L703.54,251.04 L706.16,247.96 L708.78,244.86 L711.41,241.74 L714.05,238.60 L716.69,235.43 L719.34,232.24 L721.99,229.03 L724.65,225.79 L727.32,222.53 L729.99,219.25 L732.66,215.95 L735.34,212.62 L738.03,209.27 L740.73,205.90 L743.42,202.51 L746.13,199.09 L748.84,195.64 L751.56,192.18 L754.28,188.69 L757.00,185.18 L759.74,181.64 L762.48,178.08 L765.22,174.50 L767.97,170.89 L770.73,167.26 L773.49,163.60 L776.26,159.92 L779.03,156.22 L781.81,152.49 L784.59,148.74 L787.38,144.97 L790.18,141.17 L792.98,137.35 L795.79,133.50 L798.60,129.62 L801.42,125.73 L804.24,121.81 L807.07,117.86 L809.91,113.89 L812.75,109.89" stroke="#008000" stroke-width="2.4" stroke-dasharray="20.30,16.24" stroke-dashoffset="24.21"/>
<path d="M103.10,664.75 L103.10,664.49 L103.11,664.24 L103.13,663.99 L103.15,663.75 L103.17,663.52 L103.20,663.29 L103.24,663.07 L103.28,662.85 L103.33,662.65 L103.38,662.45 L103.44,662.25 L103.51,662.06 L103.58,661.88 L103.66,661.70 L103.74,661.53 L103.83,661.37 L103.92,661.21 L104.02,661.05 L104.13,660.91 L104.24,660.76 L104.36,660.63 L104.48,660.49 L104.61,660.37 L104.74,660.25 L104.88,660.13 L105.03,660.02 L105.18,659.91 L105.33,659.81 L105.50,659.72 L105.66,659.62 L105.84,659.54 L106.02,659.45 L106.20,659.38 L106.39,659.30 L106.59,659.23 L106.79,659.17 L107.00,659.11 L107.22,659.05 L107.43,659.00 L107.66,658.95 L107.89,658.90 L108.13,658.86 L108.37,658.82 L108.62,658.79 L108.87,658.76 L109.13,658.73 L109.40,658.71 L109.67,658.69 L109.94,658.67 L110.22,658.66 L110.51,658.65 L110.81,658.64 L111.11,658.64 L111.41,658.63 L111.72,658.64 L112.04,658.64 L112.36,658.64 L112.69,658.65 L113.02,658.66 L113.36,658.68 L113.70,658.69 L114.06,658.71 L114.41,658.73 L114.77,658.75 L115.14,658.78 L115.51,658.80 L115.89,658.83 L116.28,658.86 L116.67,658.89 L117.06,658.93 L117.47,658.96 L117.87,659.00 L118.29,659.03 L118.71,659.07 L119.13,659.11 L119.56,659.15 L120.00,659.19 L120.44,659.24 L120.89,659.28 L121.34,659.32 L121.80,659.37 L122.26,659.42 L122.73,659.46 L123.21,659.51 L123.69,659.56 L124.18,659.60 L124.67,659.65 L125.17,659.70 L125.67,659.75 L126.18,659.80 L126.70,659.84 L127.22,659.89 L127.75,659.94 L128.28,659.99 L128.82,660.03 L129.37,660.08 L129.92,660.13 L130.47,660.17 L131.03,660.22 L131.60,660.26 L132.17,660.30 L132.75,660.34 L133.34,660.39 L133.93,660.43 L134.52,660.46 L135.12,660.50 L135.73,660.54 L136.34,660.57 L136.96,660.61 L137.58,660.64 L138.21,660.67 L138.85,660.70 L139.49,660.72 L140.14,660.75 L140.79,660.77 L141.45,660.79 L142.11,660.81 L142.78,660.83 L143.46,660.84 L144.14,660.86 L144.83,660.87 L145.52,660.88 L146.22,660.88 L146.92,660.89 L147.63,660.89 L148.35,660.89 L149.07,660.89 L149.79,660.88 L150.53,660.87 L151.26,660.86 L152.01,660.85 L152.76,660.83 L153.51,660.81 L154.27,660.79 L155.04,660.77 L155.81,660.74 L156.59,660.71 L157.38,660.68 L158.16,660.64 L158.96,660.61 L159.76,660.57 L160.57,660.52 L161.38,660.47 L162.20,660.42 L163.02,660.37 L163.85,660.31 L164.69,660.25 L165.53,660.19 L166.37,660.12 L167.22,660.05 L168.08,659.97 L168.95,659.90 L169.82,659.82 L170.69,659.73 L171.57,659.64 L172.46,659.55 L173.35,659.46 L174.25,659.36 L175.15,659.25 L176.06,659.14 L176.97,659.03 L177.90,658.92 L178.82,658.80 L179.75,658.68 L180.69,658.55 L181.63,658.42 L182.58,658.28 L183.54,658.14 L184.50,658.00 L185.46,657.85 L186.44,657.70 L187.41,657.54 L188.40,657.38 L189.39,657.21 L190.38,657.04 L191.38,656.87 L192.39,656.69 L193.40,656.50 L194.42,656.31 L195.44,656.12 L196.47,655.92 L197.50,655.72 L198.54,655.51 L199.59,655.29 L200.64,655.07 L201.70,654.85 L202.76,654.62 L203.83,654.38 L204.90,654.14 L205.98,653.89 L207.07,653.64 L208.16,653.38 L209.26,653.11 L210.36,652.84 L211.47,652.56 L212.59,652.28 L213.71,651.99 L214.83,651.70 L215.96,651.40 L217.10,651.09 L218.24,650.77 L219.39,650.45 L220.55,650.13 L221.71,649.79 L222.87,649.45 L224.04,649.11 L225.22,648.75 L226.40,648.39 L227.59,648.02 L228.78,647.65 L229.98,647.27 L231.19,646.88 L232.40,646.48 L233.62,646.08 L234.84,645.66 L236.07,645.25 L237.30,644.82 L238.54,644.38 L239.79,643.94 L241.04,643.49 L242.30,643.04 L243.56,642.57 L244.83,642.10 L246.10,641.62 L247.38,641.13 L248.67,640.63 L249.96,640.12 L251.25,639.61 L252.56,639.09 L253.86,638.56 L255.18,638.02 L256.50,637.47 L257.82,636.91 L259.15,636.35 L260.49,635.77 L261.83,635.19 L263.18,634.60 L264.53,634.00 L265.89,633.39 L267.26,632.77 L268.63,632.14 L270.01,631.50 L271.39,630.85 L272.78,630.20 L274.17,629.53 L275.57,628.85 L276.97,628.17 L278.39,627.47 L279.80,626.77 L281.22,626.05 L282.65,625.33 L284.09,624.59 L285.52,623.85 L286.97,623.09 L288.42,622.33 L289.88,621.56 L291.34,620.77 L292.81,619.98 L294.28,619.18 L295.76,618.37 L297.24,617.55 L298.73,616.72 L300.23,615.88 L301.73,615.04 L303.24,614.18 L304.75,613.32 L306.27,612.44 L307.80,611.56 L309.33,610.67 L310.86,609.77 L312.41,608.86 L313.95,607.95 L315.51,607.02 L317.07,606.09 L318.63,605.15 L320.20,604.20 L321.78,603.25 L323.36,602.28 L324.95,601.31 L326.54,600.33 L328.14,599.34 L329.74,598.35 L331.35,597.34 L332.97,596.33 L334.59,595.31 L336.22,594.29 L337.85,593.26 L339.49,592.22 L341.13,591.17 L342.78,590.12 L344.44,589.06 L346.10,587.99 L347.77,586.91 L349.44,585.83 L351.12,584.74 L352.80,583.65 L354.49,582.55 L356.19,581.44 L357.89,580.32 L359.60,579.20 L361.31,578.07 L363.03,576.93 L364.75,575.79 L366.48,574.63 L368.22,573.47 L369.96,572.30 L371.71,571.13 L373.46,569.94 L375.22,568.75 L376.98,567.55 L378.75,566.34 L380.53,565.13 L382.31,563.90 L384.10,562.67 L385.89,561.43 L387.69,560.17 L389.49,558.91 L391.30,557.64 L393.12,556.37 L394.94,555.08 L396.77,553.78 L398.60,552.48 L400.44,551.16 L402.28,549.83 L404.13,548.50 L405.99,547.15 L407.85,545.80 L409.71,544.43 L411.59,543.06 L413.46,541.67 L415.35,540.28 L417.24,538.87 L419.13,537.46 L421.03,536.03 L422.94,534.59 L424.85,533.14 L426.77,531.68 L428.69,530.21 L430.62,528.73 L432.56,527.24 L434.50,525.74 L436.45,524.22 L438.40,522.69 L440.36,521.15 L442.32,519.60 L444.29,518.04 L446.26,516.47 L448.25,514.88 L450.23,513.28 L452.22,511.67 L454.22,510.05 L456.22,508.41 L458.23,506.76 L460.25,505.10 L462.27,503.43 L464.30,501.74 L466.33,500.04 L468.37,498.33 L470.41,496.61 L472.46,494.87 L474.51,493.11 L476.57,491.35 L478.64,489.57 L480.71,487.78 L482.79,485.97 L484.87,484.16 L486.96,482.32 L489.06,480.48 L491.16,478.62 L493.26,476.75 L495.38,474.87 L497.49,472.97 L499.62,471.06 L501.74,469.14 L503.88,467.21 L506.02,465.26 L508.17,463.30 L510.32,461.32 L512.48,459.34 L514.64,457.34 L516.81,455.32 L518.98,453.30 L521.16,451.26 L523.35,449.21 L525.54,447.15 L527.74,445.07 L529.94,442.98 L532.15,440.88 L534.36,438.77 L536.58,436.64 L538.81,434.50 L541.04,432.35 L543.28,430.19 L545.52,428.01 L547.77,425.82 L550.02,423.62 L552.28,421.40 L554.55,419.18 L556.82,416.94 L559.10,414.69 L561.38,412.42 L563.67,410.15 L565.96,407.86 L568.26,405.56 L570.57,403.25 L572.88,400.92 L575.20,398.59 L577.52,396.24 L579.85,393.87 L582.18,391.50 L584.52,389.11 L586.87,386.71 L589.22,384.30 L591.58,381.87 L593.94,379.43 L596.31,376.98 L598.68,374.52 L601.06,372.04 L603.45,369.55 L605.84,367.05 L608.23,364.53 L610.64,362.00 L613.05,359.46 L615.46,356.90 L617.88,354.33 L620.30,351.75 L622.74,349.15 L625.17,346.54 L627.61,343.92 L630.06,341.28 L632.52,338.63 L634.98,335.96 L637.44,333.28 L639.91,330.59 L642.39,327.88 L644.87,325.16 L647.36,322.43 L649.85,319.68 L652.35,316.92 L654.86,314.14 L657.37,311.35 L659.89,308.54 L662.41,305.72 L664.94,302.89 L667.47,300.04 L670.01,297.18 L672.55,294.30 L675.10,291.41 L677.66,288.50 L680.22,285.58 L682.79,282.64 L685.36,279.69 L687.94,276.72 L690.53,273.74 L693.12,270.74 L695.72,267.73 L698.32,264.70 L700.92,261.66 L703.54,258.60 L706.16,255.53 L708.78,252.44 L711.41,249.34 L714.05,246.22 L716.69,243.09 L719.34,239.94 L721.99,236.77 L724.65,233.59 L727.32,230.39 L729.99,227.18 L732.66,223.95 L735.34,220.71 L738.03,217.45 L740.73,214.17 L743.42,210.88 L746.13,207.57 L748.84,204.24 L751.56,200.90 L754.28,197.55 L757.00,194.17 L759.74,190.78 L762.48,187.38 L765.22,183.95 L767.97,180.51 L770.73,177.06 L773.49,173.58 L776.26,170.09 L779.03,166.59 L781.81,163.06 L784.59,159.52 L787.38,155.97 L790.18,152.39 L792.98,148.80 L795.79,145.19 L798.60,141.57 L801.42,137.93 L804.24,134.27 L807.07,130.59 L809.91,126.89 L812.75,123.18" stroke="#ffd700" stroke-width="2.4"/>
<path d="M103.10,664.75 L103.10,664.49 L103.11,664.23 L103.13,663.97 L103.15,663.71 L103.17,663.45 L103.20,663.18 L103.24,662.92 L103.28,662.65 L103.33,662.38 L103.38,662.11 L103.44,661.84 L103.51,661.58 L103.58,661.31 L103.66,661.04 L103.74,660.77 L103.83,660.50 L103.92,660.23 L104.02,659.96 L104.13,659.70 L104.24,659.43 L104.36,659.16 L104.48,658.90 L104.61,658.64 L104.74,658.38 L104.88,658.12 L105.03,657.86 L105.18,657.60 L105.33,657.35 L105.50,657.09 L105.66,656.84 L105.84,656.60 L106.02,656.35 L106.20,656.11 L106.39,655.87 L106.59,655.64 L106.79,655.40 L107.00,655.17 L107.22,654.95 L107.43,654.72 L107.66,654.51 L107.89,654.29 L108.13,654.08 L108.37,653.87 L108.62,653.67 L108.87,653.47 L109.13,653.28 L109.40,653.09 L109.67,652.91 L109.94,652.73 L110.22,652.56 L110.51,652.39 L110.81,652.23 L111.11,652.07 L111.41,651.92 L111.72,651.78 L112.04,651.64 L112.36,651.50 L112.69,651.38 L113.02,651.26 L113.36,651.14 L113.70,651.03 L114.06,650.93 L114.41,650.82 L114.77,650.73 L115.14,650.64 L115.51,650.55 L115.89,650.47 L116.28,650.39 L116.67,650.32 L117.06,650.25 L117.47,650.18 L117.87,650.12 L118.29,650.06 L118.71,650.01 L119.13,649.96 L119.56,649.91 L120.00,649.86 L120.44,649.82 L120.89,649.78 L121.34,649.74 L121.80,649.70 L122.26,649.67 L122.73,649.63 L123.21,649.60 L123.69,649.58 L124.18,649.55 L124.67,649.52 L125.17,649.50 L125.67,649.47 L126.18,649.45 L126.70,649.43 L127.22,649.41 L127.75,649.38 L128.28,649.36 L128.82,649.34 L129.37,649.32 L129.92,649.30 L130.47,649.28 L131.03,649.26 L131.60,649.23 L132.17,649.21 L132.75,649.18 L133.34,649.16 L133.93,649.14 L134.52,649.11 L135.12,649.08 L135.73,649.06 L136.34,649.03 L136.96,649.00 L137.58,648.98 L138.21,648.95 L138.85,648.93 L139.49,648.90 L140.14,648.87 L140.79,648.85 L141.45,648.82 L142.11,648.80 L142.78,648.77 L143.46,648.75 L144.14,648.72 L144.83,648.70 L145.52,648.68 L146.22,648.66 L146.92,648.64 L147.63,648.62 L148.35,648.60 L149.07,648.59 L149.79,648.57 L150.53,648.56 L151.26,648.54 L152.01,648.53 L152.76,648.52 L153.51,648.51 L154.27,648.50 L155.04,648.50 L155.81,648.49 L156.59,648.49 L157.38,648.48 L158.16,648.47 L158.96,648.45 L159.76,648.42 L160.57,648.38 L161.38,648.33 L162.20,648.27 L163.02,648.20 L163.85,648.10 L164.69,647.99 L165.53,647.86 L166.37,647.72 L167.22,647.57 L168.08,647.41 L168.95,647.25 L169.82,647.08 L170.69,646.91 L171.57,646.74 L172.46,646.58 L173.35,646.43 L174.25,646.28 L175.15,646.15 L176.06,646.03 L176.97,645.93 L177.90,645.84 L178.82,645.75 L179.75,645.68 L180.69,645.61 L181.63,645.54 L182.58,645.48 L183.54,645.42 L184.50,645.37 L185.46,645.31 L186.44,645.24 L187.41,645.18 L188.40,645.10 L189.39,645.02 L190.38,644.94 L191.38,644.85 L192.39,644.75 L193.40,644.64 L194.42,644.53 L195.44,644.41 L196.47,644.29 L197.50,644.16 L198.54,644.02 L199.59,643.88 L200.64,643.72 L201.70,643.57 L202.76,643.40 L203.83,643.23 L204.90,643.06 L205.98,642.87 L207.07,642.68 L208.16,642.48 L209.26,642.28 L210.36,642.07 L211.47,641.85 L212.59,641.63 L213.71,641.40 L214.83,641.16 L215.96,640.91 L217.10,640.66 L218.24,640.40 L219.39,640.13 L220.55,639.86 L221.71,639.58 L222.87,639.29 L224.04,639.00 L225.22,638.70 L226.40,638.39 L227.59,638.07 L228.78,637.75 L229.98,637.42 L231.19,637.08 L232.40,636.74 L233.62,636.38 L234.84,636.02 L236.07,635.66 L237.30,635.28 L238.54,634.90 L239.79,634.51 L241.04,634.11 L242.30,633.71 L243.56,633.30 L244.83,632.88 L246.10,632.45 L247.38,632.02 L248.67,631.58 L249.96,631.13 L251.25,630.67 L252.56,630.21 L253.86,629.73 L255.18,629.25 L256.50,628.76 L257.82,628.27 L259.15,627.77 L260.49,627.25 L261.83,626.73 L263.18,626.21 L264.53,625.67 L265.89,625.13 L267.26,624.58 L268.63,624.02 L270.01,623.45 L271.39,622.88 L272.78,622.29 L274.17,621.70 L275.57,621.10 L276.97,620.50 L278.39,619.88 L279.80,619.26 L281.22,618.62 L282.65,617.98 L284.09,617.34 L285.52,616.68 L286.97,616.02 L288.42,615.34 L289.88,614.66 L291.34,613.97 L292.81,613.28 L294.28,612.57 L295.76,611.86 L297.24,611.14 L298.73,610.41 L300.23,609.68 L301.73,608.94 L303.24,608.19 L304.75,607.43 L306.27,606.66 L307.80,605.89 L309.33,605.11 L310.86,604.32 L312.41,603.53 L313.95,602.73 L315.51,601.92 L317.07,601.10 L318.63,600.28 L320.20,599.45 L321.78,598.61 L323.36,597.77 L324.95,596.92 L326.54,596.06 L328.14,595.19 L329.74,594.32 L331.35,593.44 L332.97,592.56 L334.59,591.67 L336.22,590.77 L337.85,589.86 L339.49,588.95 L341.13,588.04 L342.78,587.11 L344.44,586.18 L346.10,585.24 L347.77,584.30 L349.44,583.35 L351.12,582.40 L352.80,581.43 L354.49,580.46 L356.19,579.49 L357.89,578.51 L359.60,577.51 L361.31,576.51 L363.03,575.51 L364.75,574.49 L366.48,573.46 L368.22,572.43 L369.96,571.38 L371.71,570.33 L373.46,569.26 L375.22,568.19 L376.98,567.10 L378.75,566.00 L380.53,564.89 L382.31,563.76 L384.10,562.63 L385.89,561.48 L387.69,560.31 L389.49,559.14 L391.30,557.95 L393.12,556.74 L394.94,555.52 L396.77,554.29 L398.60,553.04 L400.44,551.77 L402.28,550.49 L404.13,549.19 L405.99,547.88 L407.85,546.55 L409.71,545.20 L411.59,543.83 L413.46,542.45 L415.35,541.04 L417.24,539.62 L419.13,538.18 L421.03,536.72 L422.94,535.25 L424.85,533.76 L426.77,532.25 L428.69,530.73 L430.62,529.19 L432.56,527.64 L434.50,526.08 L436.45,524.50 L438.40,522.91 L440.36,521.30 L442.32,519.69 L444.29,518.06 L446.26,516.42 L448.25,514.78 L450.23,513.12 L452.22,511.45 L454.22,509.78 L456.22,508.09 L458.23,506.40 L460.25,504.71 L462.27,503.00 L464.30,501.29 L466.33,499.57 L468.37,497.85 L470.41,496.12 L472.46,494.39 L474.51,492.66 L476.57,490.92 L478.64,489.17 L480.71,487.41 L482.79,485.65 L484.87,483.87 L486.96,482.08 L489.06,480.29 L491.16,478.48 L493.26,476.65 L495.38,474.81 L497.49,472.96 L499.62,471.09 L501.74,469.20 L503.88,467.29 L506.02,465.36 L508.17,463.41 L510.32,461.44 L512.48,459.45 L514.64,457.44 L516.81,455.40 L518.98,453.33 L521.16,451.24 L523.35,449.12 L525.54,446.97 L527.74,444.80 L529.94,442.59 L532.15,440.35 L534.36,438.08 L536.58,435.78 L538.81,433.44 L541.04,431.07 L543.28,428.66 L545.52,426.22 L547.77,423.76 L550.02,421.28 L552.28,418.78 L554.55,416.27 L556.82,413.75 L559.10,411.24 L561.38,408.72 L563.67,406.22 L565.96,403.73 L568.26,401.25 L570.57,398.79 L572.88,396.35 L575.20,393.91 L577.52,391.49 L579.85,389.08 L582.18,386.67 L584.52,384.27 L586.87,381.87 L589.22,379.47 L591.58,377.07 L593.94,374.66 L596.31,372.25 L598.68,369.83 L601.06,367.40 L603.45,364.96 L605.84,362.51 L608.23,360.04 L610.64,357.55 L613.05,355.05 L615.46,352.52 L617.88,349.96 L620.30,347.38 L622.74,344.77 L625.17,342.13 L627.61,339.44 L630.06,336.71 L632.52,333.93 L634.98,331.11 L637.44,328.23 L639.91,325.29 L642.39,322.29 L644.87,319.25 L647.36,316.14 L649.85,312.99 L652.35,309.78 L654.86,306.52 L657.37,303.21 L659.89,299.86 L662.41,296.46 L664.94,293.04 L667.47,289.59 L670.01,286.13 L672.55,282.65 L675.10,279.18 L677.66,275.71 L680.22,272.25 L682.79,268.79 L685.36,265.34 L687.94,261.89 L690.53,258.45 L693.12,255.02 L695.72,251.59 L698.32,248.17 L700.92,244.75 L703.54,241.34 L706.16,237.95 L708.78,234.55 L711.41,231.17 L714.05,227.80 L716.69,224.44 L719.34,221.08 L721.99,217.74 L724.65,214.40 L727.32,211.07 L729.99,207.74 L732.66,204.40 L735.34,201.06 L738.03,197.71 L740.73,194.35 L743.42,190.96 L746.13,187.56 L748.84,184.14 L751.56,180.68 L754.28,177.20 L757.00,173.68 L759.74,170.13 L762.48,166.54 L765.22,162.92 L767.97,159.27 L770.73,155.59 L773.49,151.87 L776.26,148.13 L779.03,144.35 L781.81,140.55 L784.59,136.71 L787.38,132.85 L790.18,128.96 L792.98,125.04 L795.79,121.10 L798.60,117.13 L801.42,113.13 L804.24,109.10 L807.07,105.06 L809.91,100.98 L812.75,96.89" stroke="#ffd700" stroke-width="2.4" stroke-dasharray="16.24,4.06" stroke-dashoffset="11.83"/>
<path d="M103.10,664.75 L103.10,664.44 L103.11,664.13 L103.11,663.82 L103.12,663.52 L103.14,663.22 L103.15,662.92 L103.17,662.62 L103.19,662.32 L103.22,662.03 L103.25,661.74 L103.28,661.45 L103.31,661.17 L103.35,660.88 L103.39,660.60 L103.43,660.32 L103.48,660.05 L103.53,659.77 L103.58,659.50 L103.63,659.23 L103.69,658.96 L103.75,658.70 L103.81,658.43 L103.88,658.17 L103.95,657.91 L104.02,657.66 L104.10,657.40 L104.18,657.15 L104.26,656.89 L104.34,656.65 L104.43,656.40 L104.52,656.15 L104.61,655.91 L104.71,655.67 L104.81,655.43 L104.91,655.19 L105.01,654.95 L105.12,654.72 L105.23,654.49 L105.34,654.26 L105.46,654.03 L105.58,653.80 L105.70,653.58 L105.83,653.35 L105.96,653.13 L106.09,652.91 L106.22,652.70 L106.36,652.48 L106.50,652.26 L106.64,652.05 L106.79,651.84 L106.94,651.63 L107.09,651.42 L107.24,651.22 L107.40,651.01 L107.56,650.81 L107.73,650.61 L107.89,650.41 L108.06,650.21 L108.24,650.01 L108.41,649.82 L108.59,649.62 L108.77,649.43 L108.96,649.24 L109.14,649.05 L109.33,648.86 L109.53,648.67 L109.72,648.49 L109.92,648.30 L110.12,648.12 L110.33,647.94 L110.54,647.76 L110.75,647.58 L110.96,647.40 L111.18,647.22 L111.40,647.05 L111.62,646.87 L111.85,646.70 L112.08,646.53 L112.31,646.36 L112.54,646.19 L112.78,646.02 L113.02,645.85 L113.26,645.69 L113.51,645.52 L113.76,645.36 L114.01,645.19 L114.27,645.03 L114.53,644.87 L114.79,644.71 L115.05,644.55 L115.32,644.39 L115.59,644.24 L115.86,644.08 L116.14,643.93 L116.42,643.77 L116.70,643.62 L116.98,643.47 L117.27,643.31 L117.56,643.16 L117.85,643.01 L118.15,642.86 L118.45,642.71 L118.75,642.57 L119.06,642.42 L119.37,642.27 L119.68,642.13 L119.99,641.98 L120.31,641.84 L120.63,641.70 L120.95,641.55 L121.28,641.41 L121.61,641.27 L121.94,641.13 L122.28,640.99 L122.61,640.85 L122.95,640.71 L123.30,640.57 L123.64,640.43 L123.99,640.29 L124.35,640.16 L124.70,640.02 L125.06,639.88 L125.42,639.75 L125.79,639.61 L126.15,639.48 L126.52,639.34 L126.90,639.21 L127.27,639.07 L127.65,638.94 L128.04,638.81 L128.42,638.67 L128.81,638.54 L129.20,638.41 L129.59,638.28 L129.99,638.14 L130.39,638.01 L130.79,637.88 L131.20,637.75 L131.61,637.62 L132.02,637.49 L132.43,637.36 L132.85,637.23 L133.27,637.10 L133.70,636.96 L134.12,636.83 L134.55,636.70 L134.98,636.57 L135.42,636.44 L135.86,636.31 L136.30,636.18 L136.74,636.05 L137.19,635.92 L137.64,635.79 L138.09,635.66 L138.55,635.53 L139.01,635.40 L139.47,635.27 L139.93,635.13 L140.40,635.00 L140.87,634.87 L141.35,634.74 L141.82,634.61 L142.30,634.47 L142.78,634.34 L143.27,634.21 L143.76,634.08 L144.25,633.94 L144.74,633.81 L145.24,633.68 L145.74,633.54 L146.24,633.41 L146.75,633.27 L147.26,633.14 L147.77,633.00 L148.29,632.86 L148.80,632.73 L149.33,632.59 L149.85,632.45 L150.38,632.31 L150.91,632.17 L151.44,632.03 L151.97,631.89 L152.51,631.75 L153.05,631.61 L153.60,631.47 L154.15,631.32 L154.70,631.18 L155.25,631.03 L155.81,630.89 L156.37,630.74 L156.93,630.59 L157.49,630.45 L158.06,630.30 L158.63,630.14 L159.21,629.99 L159.78,629.84 L160.36,629.69 L160.95,629.53 L161.53,629.38 L162.12,629.22 L162.71,629.06 L163.31,628.90 L163.90,628.74 L164.50,628.58 L165.11,628.41 L165.71,628.25 L166.32,628.08 L166.94,627.92 L167.55,627.75 L168.17,627.58 L168.79,627.40 L169.41,627.23 L170.04,627.05 L170.67,626.88 L171.30,626.70 L171.94,626.52 L172.58,626.34 L173.22,626.16 L173.87,625.97 L174.51,625.78 L175.16,625.59 L175.82,625.40 L176.47,625.21 L177.13,625.02 L177.80,624.82 L178.46,624.62 L179.13,624.42 L179.80,624.22 L180.48,624.02 L181.15,623.81 L181.83,623.61 L182.52,623.40 L183.20,623.18 L183.89,622.97 L184.58,622.75 L185.28,622.53 L185.98,622.31 L186.68,622.09 L187.38,621.87 L188.09,621.64 L188.80,621.41 L189.51,621.18 L190.23,620.94 L190.95,620.70 L191.67,620.46 L192.39,620.22 L193.12,619.98 L193.85,619.73 L194.58,619.48 L195.32,619.23 L196.06,618.97 L196.80,618.71 L197.55,618.45 L198.29,618.19 L199.04,617.92 L199.80,617.66 L200.56,617.38 L201.31,617.11 L202.08,616.83 L202.84,616.55 L203.61,616.27 L204.38,615.98 L205.16,615.69 L205.94,615.40 L206.72,615.11 L207.50,614.81 L208.29,614.51 L209.08,614.20 L209.87,613.90 L210.66,613.59 L211.46,613.27 L212.26,612.96 L213.07,612.63 L213.87,612.31 L214.68,611.98 L215.50,611.65 L216.31,611.32 L217.13,610.98 L217.95,610.64 L218.78,610.30 L219.61,609.95 L220.44,609.60 L221.27,609.25 L222.11,608.89 L222.95,608.53 L223.79,608.16 L224.64,607.79 L225.48,607.42 L226.33,607.04 L227.19,606.67 L228.05,606.28 L228.91,605.90 L229.77,605.51 L230.64,605.12 L231.51,604.73 L232.38,604.33 L233.25,603.93 L234.13,603.53 L235.01,603.12 L235.89,602.72 L236.78,602.31 L237.67,601.90 L238.56,601.48 L239.46,601.06 L240.36,600.65 L241.26,600.22 L242.16,599.80 L243.07,599.38 L243.98,598.95 L244.90,598.52 L245.81,598.09 L246.73,597.66 L247.65,597.23 L248.58,596.79 L249.51,596.36 L250.44,595.92 L251.37,595.48 L252.31,595.04 L253.25,594.60 L254.19,594.16 L255.14,593.71 L256.09,593.27 L257.04,592.82 L257.99,592.38 L258.95,591.93 L259.91,591.48 L260.87,591.03 L261.84,590.58 L262.81,590.14 L263.78,589.69 L264.76,589.24 L265.74,588.79 L266.72,588.34 L267.70,587.89 L268.69,587.44 L269.68,586.99 L270.67,586.54 L271.67,586.09 L272.67,585.64 L273.67,585.19 L274.67,584.74 L275.68,584.29 L276.69,583.84 L277.70,583.39 L278.72,582.95 L279.74,582.50 L280.76,582.06 L281.79,581.61 L282.82,581.17 L283.85,580.73 L284.88,580.29 L285.92,579.85 L286.96,579.41 L288.00,578.97 L289.05,578.54 L290.10,578.10 L291.15,577.67 L292.21,577.24 L293.26,576.81 L294.32,576.38 L295.39,575.96 L296.45,575.54 L297.52,575.11 L298.60,574.69 L299.67,574.28 L300.75,573.86 L301.83,573.45 L302.92,573.04 L304.01,572.63 L305.10,572.22 L306.19,571.82 L307.29,571.42 L308.38,571.02 L309.49,570.63 L310.59,570.24 L311.70,569.85 L312.81,569.46 L313.92,569.08 L315.04,568.70 L316.16,568.32 L317.28,567.95 L318.41,567.58 L319.54,567.21 L320.67,566.84 L321.81,566.48 L322.94,566.12 L324.08,565.77 L325.23,565.42 L326.37,565.07 L327.52,564.72 L328.68,564.38 L329.83,564.04 L330.99,563.70 L332.15,563.36 L333.31,563.03 L334.48,562.70 L335.65,562.37 L336.82,562.04 L338.00,561.72 L339.18,561.40 L340.36,561.08 L341.55,560.77 L342.73,560.46 L343.92,560.14 L345.12,559.84 L346.31,559.53 L347.51,559.23 L348.72,558.92 L349.92,558.62 L351.13,558.33 L352.34,558.03 L353.56,557.74 L354.77,557.45 L355.99,557.16 L357.22,556.87 L358.44,556.59 L359.67,556.30 L360.90,556.02 L362.14,555.74 L363.38,555.46 L364.62,555.19 L365.86,554.91 L367.11,554.64 L368.36,554.37 L369.61,554.10 L370.87,553.83 L372.13,553.57 L373.39,553.30 L374.65,553.04 L375.92,552.78 L377.19,552.52 L378.46,552.26 L379.74,552.00 L381.02,551.74 L382.30,551.49 L383.59,551.23 L384.87,550.98 L386.17,550.73 L387.46,550.48 L388.76,550.23 L390.06,549.98 L391.36,549.73 L392.66,549.49 L393.97,549.24 L395.29,549.00 L396.60,548.75 L397.92,548.51 L399.24,548.27 L400.56,548.03 L401.89,547.78 L403.22,547.54 L404.55,547.31 L405.89,547.07 L407.22,546.83 L408.56,546.59 L409.91,546.35 L411.26,546.12 L412.61,545.88 L413.96,545.65 L415.31,545.41 L416.67,545.18 L418.04,544.94 L419.40,544.71 L420.77,544.47 L422.14,544.24 L423.51,544.01 L424.89,543.77 L426.27,543.54 L427.65,543.30 L429.04,543.07 L430.43,542.84 L431.82,542.60 L433.21,542.37 L434.61,542.14 L436.01,541.90 L437.41,541.67 L438.82,541.44 L440.23,541.20 L441.64,540.97 L443.05,540.73 L444.47,540.50 L445.89,540.26 L447.32,540.02 L448.74,539.79 L450.17,539.55 L451.61,539.31 L453.04,539.07 L454.48,538.83 L455.92,538.60 L457.37,538.35 L458.81,538.11 L460.26,537.87 L461.72,537.63 L463.17,537.39 L464.63,537.14 L466.10,536.90 L467.56,536.65 L469.03,536.40 L470.50,536.16 L470.99,536.05 L471.48,535.94 L471.97,535.84 L472.46,535.73 L472.95,535.63 L473.44,535.52 L473.93,535.41 L474.42,535.31 L474.91,535.20 L475.40,535.09 L475.88,534.99 L476.37,534.88 L476.86,534.78 L477.35,534.67 L477.84,534.56 L478.33,534.46 L478.82,534.35 L479.31,534.25 L479.80,534.14 L480.29,534.03 L480.78,533.93 L481.27,533.82 L481.76,533.71 L482.25,533.61 L482.74,533.50 L483.23,533.40 L483.72,533.29 L484.21,533.18 L484.70,533.08 L485.19,532.97 L485.68,532.87 L486.17,532.76 L486.65,532.65 L487.14,532.55 L487.63,532.44 L488.12,532.34 L488.61,532.23 L489.10,532.12 L489.59,532.02 L490.08,531.91 L490.57,531.80 L491.06,531.70 L491.55,531.59 L492.04,531.49 L492.53,531.38 L493.02,531.27 L493.51,531.17 L494.00,531.06 L494.49,530.96 L494.98,530.85 L495.47,530.74 L495.96,530.64 L496.45,530.53 L496.93,530.42 L497.42,530.32 L497.91,530.21 L498.40,530.11 L498.89,530.00 L499.38,529.89 L499.87,529.79 L500.36,529.68 L500.85,529.58 L501.34,529.47 L501.83,529.36 L502.32,529.26 L502.81,529.15 L503.30,529.04 L503.79,528.94 L504.28,528.83 L504.77,528.73 L505.26,528.62 L505.75,528.51 L506.24,528.41 L506.73,528.30 L507.22,528.20 L507.70,528.09 L508.19,527.98 L508.68,527.88 L509.17,527.77 L509.66,527.66 L510.15,527.56 L510.64,527.45 L511.13,527.35 L511.62,527.24 L512.11,527.13 L512.60,527.03 L513.09,526.92 L513.58,526.82 L514.07,526.71 L514.56,526.60 L515.05,526.50 L515.54,526.39 L516.03,526.29 L516.52,526.18 L517.01,526.07 L517.50,525.97 L517.98,525.86 L518.47,525.75 L518.96,525.65 L519.45,525.54 L519.94,525.44 L520.43,525.33 L520.92,525.22 L521.41,525.12 L521.90,525.01 L522.39,524.91 L522.88,524.80 L523.37,524.69 L523.86,524.59 L524.35,524.48 L524.84,524.37 L525.33,524.27 L525.82,524.16 L526.31,524.06 L526.80,523.95 L527.29,523.84 L527.78,523.74 L528.27,523.63 L528.75,523.53 L529.24,523.42 L529.73,523.31 L530.22,523.21 L530.71,523.10 L531.20,522.99 L531.69,522.89 L532.18,522.78 L532.67,522.68 L533.16,522.57 L533.65,522.46 L534.14,522.36 L534.63,522.25 L535.12,522.15 L535.61,522.04 L536.10,521.93 L536.59,521.83 L537.08,521.72 L537.57,521.61 L538.06,521.51 L538.55,521.40 L539.03,521.30 L539.52,521.19 L540.01,521.08 L540.50,520.98 L540.99,520.87 L541.48,520.77 L541.97,520.66 L542.46,520.55 L542.95,520.45 L543.44,520.34 L543.93,520.24 L544.42,520.13 L544.91,520.02 L545.40,519.92 L545.89,519.81 L546.38,519.70 L546.87,519.60 L547.36,519.49 L547.85,519.39 L548.34,519.28 L548.83,519.17 L549.32,519.07 L549.80,518.96 L550.29,518.86 L550.78,518.75 L551.27,518.64 L551.76,518.54 L552.25,518.43 L552.74,518.32 L553.23,518.22 L553.72,518.11 L554.21,518.01 L554.70,517.90 L555.15,517.68 L555.60,517.46 L556.05,517.25 L556.50,517.03 L556.95,516.81 L557.41,516.59 L557.86,516.37 L558.31,516.16 L558.76,515.94 L559.21,515.72 L559.66,515.50 L560.11,515.28 L560.56,515.07 L561.01,514.85 L561.46,514.63 L561.92,514.41 L562.37,514.19 L562.82,513.98 L563.27,513.76 L563.72,513.54 L564.17,513.32 L564.62,513.10 L565.07,512.89 L565.52,512.67 L565.97,512.45 L566.43,512.23 L566.88,512.01 L567.33,511.79 L567.78,511.58 L568.23,511.36 L568.68,511.14 L569.13,510.92 L569.58,510.70 L570.03,510.49 L570.48,510.27 L570.94,510.05 L571.39,509.83 L571.84,509.61 L572.29,509.40 L572.74,509.18 L573.19,508.96 L573.64,508.74 L574.09,508.52 L574.54,508.31 L574.99,508.09 L575.45,507.87 L575.90,507.65 L576.35,507.43 L576.80,507.22 L577.25,507.00 L577.70,506.78 L578.15,506.56 L578.60,506.34 L579.05,506.13 L579.50,505.91 L579.95,505.69 L580.41,505.47 L580.86,505.25 L581.31,505.04 L581.76,504.82 L582.21,504.60 L582.66,504.38 L583.11,504.16 L583.56,503.95 L584.01,503.73 L584.46,503.51 L584.92,503.29 L585.37,503.07 L585.82,502.86 L586.27,502.64 L586.72,502.42 L587.17,502.20 L587.62,501.98 L588.07,501.77 L588.52,501.55 L588.97,501.33 L589.43,501.11 L589.88,500.89 L590.33,500.67 L590.78,500.46 L591.23,500.24 L591.68,500.02 L592.13,499.80 L592.58,499.58 L593.03,499.37 L593.48,499.15 L593.94,498.93 L594.39,498.71 L594.84,498.49 L595.29,498.28 L595.74,498.06 L596.19,497.84 L596.64,497.62 L597.09,497.40 L597.54,497.19 L597.99,496.97 L598.45,496.75 L598.90,496.53 L599.35,496.31 L599.80,496.10 L600.25,495.88 L600.70,495.66 L601.15,495.44 L601.60,495.22 L602.05,495.01 L602.50,494.79 L602.95,494.57 L603.41,494.35 L603.86,494.13 L604.31,493.92 L604.76,493.70 L605.21,493.48 L605.66,493.26 L606.11,493.04 L606.56,492.83 L607.01,492.61 L607.46,492.39 L607.92,492.17 L608.37,491.95 L608.82,491.74 L609.27,491.52 L609.72,491.30 L610.17,491.08 L610.62,490.86 L611.07,490.65 L611.52,490.43 L611.97,490.21 L612.43,489.99 L612.88,489.77 L613.33,489.55 L613.78,489.34 L614.23,489.12 L614.68,488.90 L615.13,488.68 L615.58,488.46 L616.03,488.25 L616.48,488.03 L616.94,487.81 L617.39,487.59 L617.84,487.37 L618.29,487.16 L618.74,486.94 L619.19,486.72 L619.64,486.50 L620.09,486.28 L620.54,486.07 L620.99,485.85 L621.45,485.63 L621.90,485.41 L622.35,485.19 L622.80,484.98 L623.25,484.76 L623.70,484.54 L624.15,484.32 L624.60,484.10 L625.05,483.89 L625.50,483.67 L625.95,483.45 L626.41,483.23 L626.86,483.01 L627.31,482.80 L627.76,482.58 L628.21,482.36 L628.66,482.14 L629.11,481.92 L629.56,481.71 L630.01,481.49 L630.46,481.27 L630.92,481.05 L631.37,480.83 L631.82,480.62 L632.27,480.40 L632.72,480.18 L633.17,479.96 L633.62,479.74 L634.07,479.53 L634.52,479.31 L634.97,479.09 L635.43,478.87 L635.88,478.65 L636.33,478.43 L636.78,478.22 L637.23,478.00 L637.68,477.78 L638.13,477.56 L638.58,477.34 L639.03,477.13 L639.48,476.91 L639.94,476.69 L640.39,476.47 L640.84,476.25 L641.29,476.04 L641.74,475.82 L642.19,475.60 L642.64,475.38 L643.09,475.16 L643.54,474.95 L643.99,474.73 L644.45,474.51 L644.90,474.29 L645.35,474.07 L645.80,473.86 L646.25,473.64 L646.70,473.42 L647.15,473.20 L647.60,472.98 L648.05,472.77 L648.50,472.55 L648.95,472.33 L649.41,472.11 L649.86,471.89 L650.31,471.68 L650.76,471.46 L651.21,471.24 L651.66,471.02 L652.11,470.80 L652.56,470.59 L653.01,470.37 L653.46,470.15 L653.92,469.93 L654.37,469.71 L654.82,469.50 L655.27,469.28 L655.72,469.06 L656.17,468.84 L656.62,468.62 L657.07,468.41 L657.52,468.19 L657.97,467.97 L658.43,467.75 L658.88,467.53 L659.33,467.31 L659.78,467.10 L660.23,466.88 L660.68,466.66 L661.13,466.44 L661.58,466.22 L662.03,466.01 L662.48,465.79 L662.94,465.57 L663.39,465.35 L663.84,465.13 L664.29,464.92 L664.74,464.70 L665.19,464.48 L665.64,464.26 L666.09,464.04 L666.54,463.83 L666.99,463.61 L667.45,463.39 L667.90,463.17 L668.35,462.95 L668.80,462.74 L669.25,462.52 L669.70,462.30 L670.04,461.94 L670.39,461.57 L670.73,461.21 L671.07,460.84 L671.42,460.48 L671.76,460.12 L672.10,459.75 L672.44,459.39 L672.79,459.02 L673.13,458.66 L673.47,458.30 L673.82,457.93 L674.16,457.57 L674.50,457.20 L674.85,456.84 L675.19,456.48 L675.53,456.11 L675.87,455.75 L676.22,455.38 L676.56,455.02 L676.90,454.66 L677.25,454.29 L677.59,453.93 L677.93,453.56 L678.28,453.20 L678.62,452.84 L678.96,452.47 L679.31,452.11 L679.65,451.74 L679.99,451.38 L680.33,451.02 L680.68,450.65 L681.02,450.29 L681.36,449.92 L681.71,449.56 L682.05,449.19 L682.39,448.83 L682.74,448.47 L683.08,448.10 L683.42,447.74 L683.76,447.37 L684.11,447.01 L684.45,446.65 L684.79,446.28 L685.14,445.92 L685.48,445.55 L685.82,445.19 L686.17,444.83 L686.51,444.46 L686.85,444.10 L687.20,443.73 L687.54,443.37 L687.88,443.01 L688.22,442.64 L688.57,442.28 L688.91,441.91 L689.25,441.55 L689.60,441.19 L689.94,440.82 L690.28,440.46 L690.63,440.09 L690.97,439.73 L691.31,439.37 L691.65,439.00 L692.00,438.64 L692.34,438.27 L692.68,437.91 L693.03,437.55 L693.37,437.18 L693.71,436.82 L694.06,436.45 L694.40,436.09 L694.74,435.73 L695.09,435.36 L695.43,435.00 L695.77,434.63 L696.11,434.27 L696.46,433.91 L696.80,433.54 L697.14,433.18 L697.49,432.81 L697.83,432.45 L698.17,432.09 L698.52,431.72 L698.86,431.36 L699.20,430.99 L699.54,430.63 L699.89,430.27 L700.23,429.90 L700.57,429.54 L700.92,429.17 L701.26,428.81 L701.60,428.45 L701.95,428.08 L702.29,427.72 L702.63,427.35 L702.98,426.99 L703.32,426.63 L703.66,426.26 L704.00,425.90 L704.35,425.53 L704.69,425.17 L705.03,424.81 L705.38,424.44 L705.72,424.08 L706.06,423.71 L706.41,423.35 L706.75,422.98 L707.09,422.62 L707.44,422.26 L707.78,421.89 L708.12,421.53 L708.46,421.16 L708.81,420.80 L709.15,420.44 L709.49,420.07 L709.84,419.71 L710.18,419.34 L710.52,418.98 L710.87,418.62 L711.21,418.25 L711.55,417.89 L711.89,417.52 L712.24,417.16 L712.58,416.80 L712.92,416.43 L713.27,416.07 L713.61,415.70 L713.95,415.34 L714.30,414.98 L714.64,414.61 L714.98,414.25 L715.33,413.88 L715.67,413.52 L716.01,413.16 L716.35,412.79 L716.70,412.43 L717.04,412.06 L717.38,411.70 L717.73,411.34 L718.07,410.97 L718.41,410.61 L718.76,410.24 L719.10,409.88 L719.44,409.52 L719.78,409.15 L720.13,408.79 L720.47,408.42 L720.81,408.06 L721.16,407.70 L721.50,407.33 L721.84,406.97 L722.19,406.60 L722.53,406.24 L722.87,405.88 L723.22,405.51 L723.56,405.15 L723.90,404.78 L724.24,404.42 L724.59,404.06 L724.93,403.69 L725.27,403.33 L725.62,402.96 L725.96,402.60 L726.30,402.24 L726.65,401.87 L726.99,401.51 L727.33,401.14 L727.67,400.78 L728.02,400.42 L728.36,400.05 L728.70,399.69 L729.05,399.32 L729.39,398.96 L729.73,398.59 L730.08,398.23 L730.42,397.87 L730.76,397.50 L731.11,397.14 L731.45,396.77 L731.79,396.41 L732.13,396.05 L732.48,395.68 L732.82,395.32 L733.16,394.95 L733.51,394.59 L733.85,394.23 L734.19,393.86 L734.54,393.50 L734.88,393.13 L735.22,392.77 L735.56,392.41 L735.91,392.04 L736.25,391.68 L736.59,391.31 L736.94,390.95 L737.28,390.59 L737.62,390.22 L737.97,389.86 L738.31,389.49 L738.65,389.13 L739.00,388.77 L739.34,388.40 L739.68,388.04 L740.02,387.67 L740.37,387.31 L740.71,386.95 L741.05,386.58 L741.40,386.22 L741.74,385.85 L742.08,385.49 L742.43,385.13 L742.77,384.76 L743.11,384.40 L743.45,384.03 L743.80,383.67 L744.14,383.31 L744.48,382.94 L744.83,382.58 L745.17,382.21 L745.51,381.85 L745.86,381.49 L746.20,381.12 L746.54,380.76 L746.89,380.39 L747.23,380.03 L747.57,379.67 L747.91,379.30 L748.26,378.94 L748.60,378.57 L748.94,378.21 L749.29,377.85 L749.63,377.48 L749.97,377.12 L750.32,376.75 L750.66,376.39 L751.00,376.03 L751.34,375.66 L751.69,375.30 L752.03,374.93 L752.37,374.57 L752.72,374.21 L753.06,373.84 L753.40,373.48 L753.75,373.11 L754.09,372.75 L754.43,372.38 L754.78,372.02 L755.12,371.66 L755.46,371.29 L755.80,370.93 L756.15,370.56 L756.49,370.20 L756.83,369.84 L757.18,369.47 L757.52,369.11 L757.86,368.74 L758.21,368.38 L758.55,368.02 L758.89,367.65 L759.23,367.29 L759.58,366.92 L759.92,366.56 L760.26,366.20 L760.61,365.83 L760.95,365.47 L761.29,365.10 L761.64,364.74 L761.98,364.38 L762.32,364.01 L762.67,363.65 L763.01,363.28 L763.35,362.92 L763.69,362.56 L764.04,362.19 L764.38,361.83 L764.72,361.46 L765.07,361.10 L765.41,360.74 L765.75,360.37 L766.10,360.01 L766.44,359.64 L766.78,359.28 L767.12,358.92 L767.47,358.55 L767.81,358.19 L768.15,357.82 L768.50,357.46 L768.84,357.10 L769.18,356.73 L769.53,356.37 L769.87,356.00 L770.21,355.64 L770.56,355.28 L770.90,354.91 L771.24,354.55 L771.58,354.18 L771.93,353.82 L772.27,353.46 L772.61,353.09 L772.96,352.73 L773.30,352.36 L773.64,352.00 L773.99,351.64 L774.33,351.27 L774.67,350.91 L775.01,350.54 L775.36,350.18 L775.70,349.82 L776.04,349.45 L776.39,349.09 L776.73,348.72 L777.07,348.36 L777.42,347.99 L777.76,347.63 L778.10,347.27 L778.45,346.90 L778.79,346.54 L779.13,346.17 L779.47,345.81 L779.82,345.45 L780.16,345.08 L780.50,344.72 L780.85,344.35 L781.19,343.99 L781.53,343.63 L781.88,343.26 L782.22,342.90 L782.56,342.53 L782.91,342.17 L783.25,341.81 L783.59,341.44 L783.93,341.08 L784.28,340.71 L784.62,340.35 L784.96,339.99 L785.31,339.62 L785.65,339.26 L785.99,338.89 L786.34,338.53 L786.68,338.17 L787.02,337.80 L787.36,337.44 L787.71,337.07 L788.05,336.71 L788.39,336.35 L788.74,335.98 L789.08,335.62 L789.42,335.25 L789.77,334.89 L790.11,334.53 L790.45,334.16 L790.80,333.80 L791.14,333.43 L791.48,333.07 L791.82,332.71 L792.17,332.34 L792.51,331.98 L792.85,331.61 L793.20,331.25 L793.54,330.89 L793.88,330.52 L794.23,330.16 L794.57,329.79 L794.91,329.43 L795.25,329.07 L795.60,328.70 L795.94,328.34 L796.28,327.97 L796.63,327.61 L796.97,327.25 L797.31,326.88 L797.66,326.52 L798.00,326.15 L798.34,325.79 L798.69,325.43 L799.03,325.06 L799.37,324.70 L799.71,324.33 L800.06,323.97 L800.40,323.61 L800.74,323.24 L801.09,322.88 L801.43,322.51 L801.77,322.15 L802.12,321.78 L802.46,321.42 L802.80,321.06 L803.14,320.69 L803.49,320.33 L803.83,319.96 L804.17,319.60 L804.52,319.24 L804.86,318.87 L805.20,318.51 L805.55,318.14 L805.89,317.78 L806.23,317.42 L806.58,317.05 L806.92,316.69 L807.26,316.32 L807.60,315.96 L807.95,315.60 L808.29,315.23 L808.63,314.87 L808.98,314.50 L809.32,314.14 L809.66,313.78 L810.01,313.41 L810.35,313.05 L810.69,312.68 L811.03,312.32 L811.38,311.96 L811.72,311.59 L812.06,311.23 L812.41,310.86 L812.75,310.50" stroke="#800080" stroke-width="2.4" stroke-dasharray="16.24,4.06" stroke-dashoffset="20.02"/>
<path d="M103.10,664.75 L103.10,664.44 L103.11,664.13 L103.11,663.82 L103.12,663.52 L103.14,663.22 L103.15,662.92 L103.17,662.62 L103.19,662.32 L103.22,662.03 L103.25,661.74 L103.28,661.45 L103.31,661.17 L103.35,660.88 L103.39,660.60 L103.43,660.32 L103.48,660.05 L103.53,659.77 L103.58,659.50 L103.63,659.23 L103.69,658.96 L103.75,658.70 L103.81,658.43 L103.88,658.17 L103.95,657.91 L104.02,657.66 L104.10,657.40 L104.18,657.15 L104.26,656.89 L104.34,656.65 L104.43,656.40 L104.52,656.15 L104.61,655.91 L104.71,655.67 L104.81,655.43 L104.91,655.19 L105.01,654.95 L105.12,654.72 L105.23,654.49 L105.34,654.26" stroke="#800080" stroke-width="2.4" stroke-dasharray="4,9999"/>
</g>
<g fill="none" stroke-linecap="butt">
<path d="M115.7,159.60 H160.0" stroke="#000000" stroke-width="2.4" stroke-dasharray="4.06,8.12"/>
<path d="M115.7,188.82 H160.0" stroke="#ff0000" stroke-width="2.4" stroke-dasharray="16.24,4.06"/>
<path d="M115.7,218.04 H160.0" stroke="#ff0000" stroke-width="2.4" stroke-dasharray="4.06,16.24"/>
<path d="M115.7,247.26 H160.0" stroke="#ff0000" stroke-width="2.4" stroke-dasharray="36.54,8.12"/>
<path d="M115.7,276.48 H160.0" stroke="#0000ff" stroke-width="2.4" stroke-dasharray="36.54,8.12,8.12,36.54"/>
<path d="M115.7,305.70 H160.0" stroke="#0000ff" stroke-width="2.4" stroke-dasharray="16.24,4.06,4.06,16.24"/>
<path d="M115.7,334.92 H160.0" stroke="#008000" stroke-width="2.4" stroke-dasharray="32.48,8.12,4.06,8.12" stroke-dashoffset="40.60"/>
<path d="M115.7,364.14 H160.0" stroke="#008000" stroke-width="2.4" stroke-dasharray="20.30,16.24"/>
<path d="M115.7,393.36 H160.0" stroke="#ffd700" stroke-width="2.4"/>
<path d="M115.7,422.58 H160.0" stroke="#ffd700" stroke-width="2.4" stroke-dasharray="16.24,4.06"/>
<path d="M115.7,451.80 H160.0" stroke="#800080" stroke-width="2.4" stroke-dasharray="16.24,4.06"/>
</g>
<g style="font-family:'Liberation Sans',sans-serif" fill="#000" opacity="0.999">
<text x="169.2" y="168.30" font-size="24">DD2</text>
<text x="169.2" y="197.52" font-size="24">NL3</text>
<text x="169.2" y="226.74" font-size="24">TM1</text>
<text x="169.2" y="255.96" font-size="24">TMA</text>
<text x="169.2" y="285.18" font-size="24">SFHo</text>
<text x="169.2" y="314.40" font-size="24">SFHx</text>
<text x="169.2" y="343.62" font-size="24">FSUgold</text>
<text x="169.2" y="372.84" font-size="24">IUFSU</text>
<text x="169.2" y="402.06" font-size="24">LS180</text>
<text x="169.2" y="431.28" font-size="24">LS220</text>
<text x="169.2" y="460.50" font-size="24">QB139<tspan style="font-family:'Liberation Serif',serif" font-style="italic" font-size="30" dx="2">α</tspan><tspan font-size="15.5" dy="5.8" dx="-0.8">S</tspan><tspan dy="-5.8" dx="1.3">0.7</tspan></text>
<text y="135.70" font-size="24"><tspan x="169.2">Chiral</tspan><tspan x="239.8">EFT</tspan><tspan x="292.3">N</tspan><tspan x="310.4" font-size="15.8" dy="-12.4">3</tspan><tspan x="318.8" dy="12.4">LO</tspan></text>
<text transform="translate(85.30,675.65) scale(1,1.1)" font-size="29.2" text-anchor="end">0</text>
<text transform="translate(85.30,612.59) scale(1,1.1)" font-size="29.2" text-anchor="end">5</text>
<text transform="translate(85.30,549.54) scale(1,1.1)" font-size="29.2" text-anchor="end">10</text>
<text transform="translate(85.30,486.48) scale(1,1.1)" font-size="29.2" text-anchor="end">15</text>
<text transform="translate(85.30,423.43) scale(1,1.1)" font-size="29.2" text-anchor="end">20</text>
<text transform="translate(85.30,360.37) scale(1,1.1)" font-size="29.2" text-anchor="end">25</text>
<text transform="translate(85.30,297.32) scale(1,1.1)" font-size="29.2" text-anchor="end">30</text>
<text transform="translate(85.30,234.26) scale(1,1.1)" font-size="29.2" text-anchor="end">35</text>
<text transform="translate(85.30,171.21) scale(1,1.1)" font-size="29.2" text-anchor="end">40</text>
<text transform="translate(85.30,108.15) scale(1,1.1)" font-size="29.2" text-anchor="end">45</text>
<text transform="translate(103.40,705.70) scale(1,1.1)" font-size="29.2" text-anchor="middle">0.0</text>
<text transform="translate(221.72,705.70) scale(1,1.1)" font-size="29.2" text-anchor="middle">0.05</text>
<text transform="translate(340.03,705.70) scale(1,1.1)" font-size="29.2" text-anchor="middle">0.1</text>
<text transform="translate(458.35,705.70) scale(1,1.1)" font-size="29.2" text-anchor="middle">0.15</text>
<text transform="translate(576.67,705.70) scale(1,1.1)" font-size="29.2" text-anchor="middle">0.2</text>
<text transform="translate(694.98,705.70) scale(1,1.1)" font-size="29.2" text-anchor="middle">0.25</text>
<text transform="translate(813.30,705.70) scale(1,1.1)" font-size="29.2" text-anchor="middle">0.3</text>
<text transform="translate(103.10,78.40) scale(1,1.1)" font-size="29.2" text-anchor="middle">0</text>
<text transform="translate(244.46,78.40) scale(1,1.1)" font-size="29.2" text-anchor="middle">1</text>
<text transform="translate(385.82,78.40) scale(1,1.1)" font-size="29.2" text-anchor="middle">2</text>
<text transform="translate(527.18,78.40) scale(1,1.1)" font-size="29.2" text-anchor="middle">3</text>
<text transform="translate(668.54,78.40) scale(1,1.1)" font-size="29.2" text-anchor="middle">4</text>
<text transform="translate(809.90,78.40) scale(1,1.1)" font-size="29.2" text-anchor="middle">5</text>
<text x="344" y="38.6" font-size="40" style="font-family:'Liberation Serif',serif" font-style="italic">ρ</text>
<text x="381" y="39.0" font-size="36">[10<tspan font-size="25.2" dy="-20.2" dx="2.5">14</tspan><tspan dy="20.2" dx="-1"> g cm</tspan><tspan font-size="25.2" dy="-20.2" dx="2.5">-3</tspan><tspan dy="20.2" dx="2.5">]</tspan></text>
<text x="394" y="761.6" font-size="36">n</text>
<text x="438.3" y="761.6" font-size="36">[fm<tspan font-size="25.2" dy="-20.2" dx="1">-3</tspan><tspan dy="20.2" dx="1.5">]</tspan></text>
<text transform="translate(27.3,495.0) rotate(-90)" font-size="36.8">E/N-m<tspan font-size="25.2" dy="7.5" dx="0.5">n</tspan><tspan dy="-7.5" dx="0.5"> [MeV]</tspan></text>
</g>
</svg>
</body></html>
